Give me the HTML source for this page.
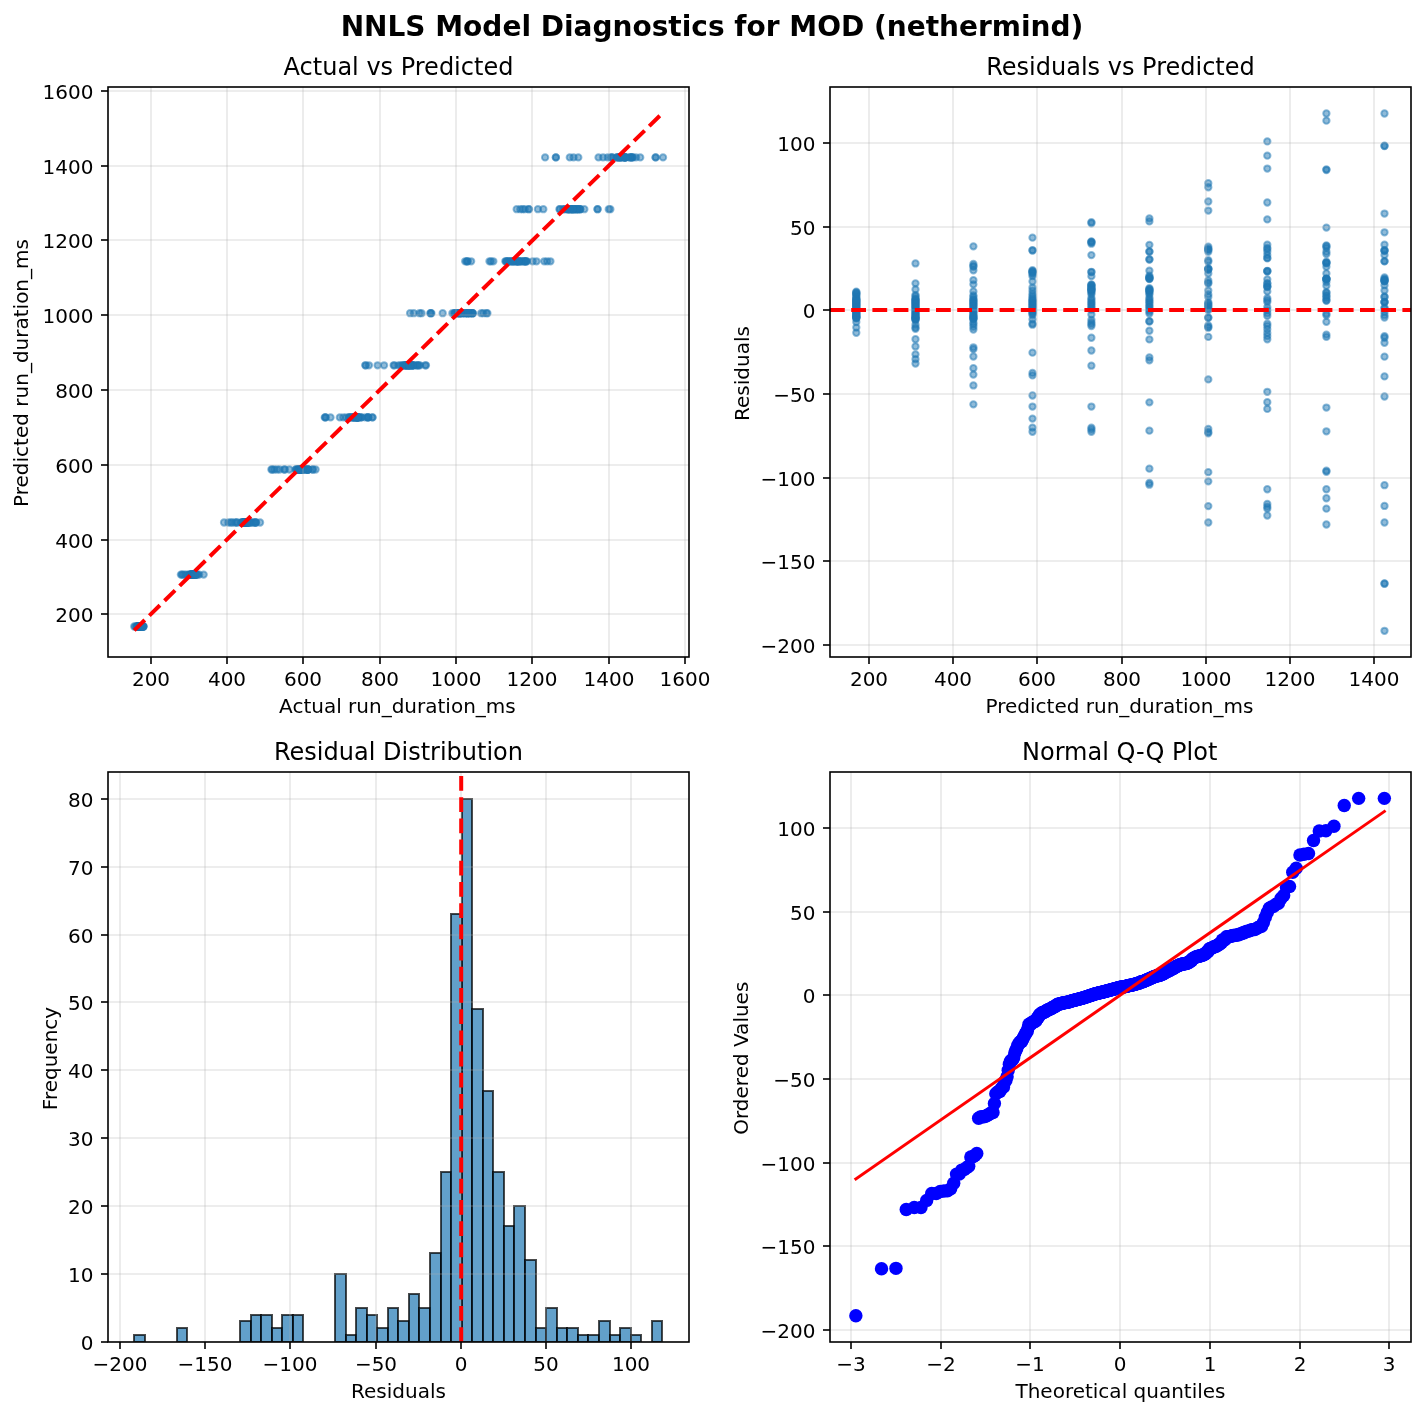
<!DOCTYPE html>
<html lang="en"><head><meta charset="utf-8"><title>NNLS Model Diagnostics for MOD (nethermind)</title>
<style>html,body{margin:0;padding:0;background:#fff}svg{display:block}</style></head>
<body>
<svg width="1425" height="1416" viewBox="0 0 1425 1416" font-family="'DejaVu Sans','Liberation Sans',sans-serif" fill="#000">
<rect width="1425" height="1416" fill="#fff"/>
<text x="712" y="36" font-size="28" text-anchor="middle" font-weight="bold">NNLS Model Diagnostics for MOD (nethermind)</text>
<defs>
<clipPath id="c1"><rect x="108" y="87" width="581" height="570"/></clipPath>
<clipPath id="c2"><rect x="830" y="87" width="581" height="570"/></clipPath>
<clipPath id="c3"><rect x="108" y="772" width="581" height="570"/></clipPath>
<clipPath id="c4"><rect x="830" y="772" width="581" height="570"/></clipPath>
</defs>
<text x="398.5" y="75.2" font-size="24" text-anchor="middle">Actual vs Predicted</text>
<g clip-path="url(#c1)">
<g fill="#1f77b4" fill-opacity="0.5" stroke="#1f77b4" stroke-opacity="0.5" stroke-width="2">
<circle cx="134.22" cy="626.5" r="3.16"/>
<circle cx="135.4" cy="626.5" r="3.16"/>
<circle cx="136.66" cy="626.5" r="3.16"/>
<circle cx="137.47" cy="626.5" r="3.16"/>
<circle cx="137.59" cy="626.5" r="3.16"/>
<circle cx="137.68" cy="626.5" r="3.16"/>
<circle cx="137.76" cy="626.5" r="3.16"/>
<circle cx="137.89" cy="626.5" r="3.16"/>
<circle cx="137.97" cy="626.5" r="3.16"/>
<circle cx="138.1" cy="626.5" r="3.16"/>
<circle cx="138.31" cy="626.5" r="3.16"/>
<circle cx="138.4" cy="626.5" r="3.16"/>
<circle cx="138.57" cy="626.5" r="3.16"/>
<circle cx="138.73" cy="626.5" r="3.16"/>
<circle cx="138.86" cy="626.5" r="3.16"/>
<circle cx="139.11" cy="626.5" r="3.16"/>
<circle cx="139.2" cy="626.5" r="3.16"/>
<circle cx="139.45" cy="626.5" r="3.16"/>
<circle cx="139.65" cy="626.5" r="3.16"/>
<circle cx="139.78" cy="626.5" r="3.16"/>
<circle cx="139.94" cy="626.5" r="3.16"/>
<circle cx="140.1" cy="626.5" r="3.16"/>
<circle cx="140.23" cy="626.5" r="3.16"/>
<circle cx="140.46" cy="626.5" r="3.16"/>
<circle cx="140.49" cy="626.5" r="3.16"/>
<circle cx="140.65" cy="626.5" r="3.16"/>
<circle cx="140.78" cy="626.5" r="3.16"/>
<circle cx="140.94" cy="626.5" r="3.16"/>
<circle cx="141.14" cy="626.5" r="3.16"/>
<circle cx="141.2" cy="626.5" r="3.16"/>
<circle cx="141.33" cy="626.5" r="3.16"/>
<circle cx="141.5" cy="626.5" r="3.16"/>
<circle cx="141.63" cy="626.5" r="3.16"/>
<circle cx="141.79" cy="626.5" r="3.16"/>
<circle cx="141.85" cy="626.5" r="3.16"/>
<circle cx="142" cy="626.5" r="3.16"/>
<circle cx="142.34" cy="626.5" r="3.16"/>
<circle cx="142.61" cy="626.5" r="3.16"/>
<circle cx="142.88" cy="626.5" r="3.16"/>
<circle cx="143.08" cy="626.5" r="3.16"/>
<circle cx="143.22" cy="626.5" r="3.16"/>
<circle cx="143.42" cy="626.5" r="3.16"/>
<circle cx="143.55" cy="626.5" r="3.16"/>
<circle cx="203.68" cy="574.6" r="3.16"/>
<circle cx="199.14" cy="574.6" r="3.16"/>
<circle cx="197.77" cy="574.6" r="3.16"/>
<circle cx="189.07" cy="574.6" r="3.16"/>
<circle cx="186.4" cy="574.6" r="3.16"/>
<circle cx="184.76" cy="574.6" r="3.16"/>
<circle cx="182.97" cy="574.6" r="3.16"/>
<circle cx="181.86" cy="574.6" r="3.16"/>
<circle cx="180.87" cy="574.6" r="3.16"/>
<circle cx="188.77" cy="574.6" r="3.16"/>
<circle cx="189.72" cy="574.6" r="3.16"/>
<circle cx="190.67" cy="574.6" r="3.16"/>
<circle cx="190.97" cy="574.6" r="3.16"/>
<circle cx="191.01" cy="574.6" r="3.16"/>
<circle cx="191.09" cy="574.6" r="3.16"/>
<circle cx="191.22" cy="574.6" r="3.16"/>
<circle cx="191.39" cy="574.6" r="3.16"/>
<circle cx="191.47" cy="574.6" r="3.16"/>
<circle cx="191.6" cy="574.6" r="3.16"/>
<circle cx="191.81" cy="574.6" r="3.16"/>
<circle cx="192.02" cy="574.6" r="3.16"/>
<circle cx="192.15" cy="574.6" r="3.16"/>
<circle cx="192.36" cy="574.6" r="3.16"/>
<circle cx="192.57" cy="574.6" r="3.16"/>
<circle cx="192.82" cy="574.6" r="3.16"/>
<circle cx="192.99" cy="574.6" r="3.16"/>
<circle cx="193.25" cy="574.6" r="3.16"/>
<circle cx="193.48" cy="574.6" r="3.16"/>
<circle cx="193.67" cy="574.6" r="3.16"/>
<circle cx="193.87" cy="574.6" r="3.16"/>
<circle cx="194" cy="574.6" r="3.16"/>
<circle cx="194.19" cy="574.6" r="3.16"/>
<circle cx="194.42" cy="574.6" r="3.16"/>
<circle cx="194.55" cy="574.6" r="3.16"/>
<circle cx="194.71" cy="574.6" r="3.16"/>
<circle cx="194.9" cy="574.6" r="3.16"/>
<circle cx="195.07" cy="574.6" r="3.16"/>
<circle cx="195.26" cy="574.6" r="3.16"/>
<circle cx="195.39" cy="574.6" r="3.16"/>
<circle cx="195.55" cy="574.6" r="3.16"/>
<circle cx="195.73" cy="574.6" r="3.16"/>
<circle cx="196.21" cy="574.6" r="3.16"/>
<circle cx="196.48" cy="574.6" r="3.16"/>
<circle cx="260.06" cy="522.5" r="3.16"/>
<circle cx="256.06" cy="522.5" r="3.16"/>
<circle cx="255.6" cy="522.5" r="3.16"/>
<circle cx="255.41" cy="522.5" r="3.16"/>
<circle cx="254.61" cy="522.5" r="3.16"/>
<circle cx="252.36" cy="522.5" r="3.16"/>
<circle cx="251.4" cy="522.5" r="3.16"/>
<circle cx="249.8" cy="522.5" r="3.16"/>
<circle cx="242.28" cy="522.5" r="3.16"/>
<circle cx="241.1" cy="522.5" r="3.16"/>
<circle cx="237.06" cy="522.5" r="3.16"/>
<circle cx="236.64" cy="522.5" r="3.16"/>
<circle cx="234.96" cy="522.5" r="3.16"/>
<circle cx="232.29" cy="522.5" r="3.16"/>
<circle cx="230.84" cy="522.5" r="3.16"/>
<circle cx="228.36" cy="522.5" r="3.16"/>
<circle cx="224.05" cy="522.5" r="3.16"/>
<circle cx="241.74" cy="522.5" r="3.16"/>
<circle cx="242.68" cy="522.5" r="3.16"/>
<circle cx="243.41" cy="522.5" r="3.16"/>
<circle cx="243.54" cy="522.5" r="3.16"/>
<circle cx="243.67" cy="522.5" r="3.16"/>
<circle cx="243.79" cy="522.5" r="3.16"/>
<circle cx="244" cy="522.5" r="3.16"/>
<circle cx="244.17" cy="522.5" r="3.16"/>
<circle cx="244.34" cy="522.5" r="3.16"/>
<circle cx="244.59" cy="522.5" r="3.16"/>
<circle cx="244.93" cy="522.5" r="3.16"/>
<circle cx="245.14" cy="522.5" r="3.16"/>
<circle cx="245.4" cy="522.5" r="3.16"/>
<circle cx="245.77" cy="522.5" r="3.16"/>
<circle cx="246" cy="522.5" r="3.16"/>
<circle cx="246.29" cy="522.5" r="3.16"/>
<circle cx="246.58" cy="522.5" r="3.16"/>
<circle cx="246.74" cy="522.5" r="3.16"/>
<circle cx="247" cy="522.5" r="3.16"/>
<circle cx="247.23" cy="522.5" r="3.16"/>
<circle cx="247.46" cy="522.5" r="3.16"/>
<circle cx="247.68" cy="522.5" r="3.16"/>
<circle cx="247.85" cy="522.5" r="3.16"/>
<circle cx="248.11" cy="522.5" r="3.16"/>
<circle cx="248.56" cy="522.5" r="3.16"/>
<circle cx="248.9" cy="522.5" r="3.16"/>
<circle cx="315.62" cy="469.5" r="3.16"/>
<circle cx="312.76" cy="469.5" r="3.16"/>
<circle cx="312.69" cy="469.5" r="3.16"/>
<circle cx="308.22" cy="469.5" r="3.16"/>
<circle cx="307.95" cy="469.5" r="3.16"/>
<circle cx="307.69" cy="469.5" r="3.16"/>
<circle cx="306.85" cy="469.5" r="3.16"/>
<circle cx="305.63" cy="469.5" r="3.16"/>
<circle cx="304.25" cy="469.5" r="3.16"/>
<circle cx="303.57" cy="469.5" r="3.16"/>
<circle cx="297.01" cy="469.5" r="3.16"/>
<circle cx="295.78" cy="469.5" r="3.16"/>
<circle cx="296.01" cy="469.5" r="3.16"/>
<circle cx="289.41" cy="469.5" r="3.16"/>
<circle cx="284.8" cy="469.5" r="3.16"/>
<circle cx="284.23" cy="469.5" r="3.16"/>
<circle cx="279.65" cy="469.5" r="3.16"/>
<circle cx="277.13" cy="469.5" r="3.16"/>
<circle cx="274.38" cy="469.5" r="3.16"/>
<circle cx="272.32" cy="469.5" r="3.16"/>
<circle cx="271.37" cy="469.5" r="3.16"/>
<circle cx="307.95" cy="469.5" r="3.16"/>
<circle cx="307.61" cy="469.5" r="3.16"/>
<circle cx="307.27" cy="469.5" r="3.16"/>
<circle cx="298" cy="469.5" r="3.16"/>
<circle cx="298.26" cy="469.5" r="3.16"/>
<circle cx="298.55" cy="469.5" r="3.16"/>
<circle cx="298.76" cy="469.5" r="3.16"/>
<circle cx="299.02" cy="469.5" r="3.16"/>
<circle cx="299.41" cy="469.5" r="3.16"/>
<circle cx="299.61" cy="469.5" r="3.16"/>
<circle cx="299.9" cy="469.5" r="3.16"/>
<circle cx="300.09" cy="469.5" r="3.16"/>
<circle cx="300.29" cy="469.5" r="3.16"/>
<circle cx="300.55" cy="469.5" r="3.16"/>
<circle cx="300.74" cy="469.5" r="3.16"/>
<circle cx="301" cy="469.5" r="3.16"/>
<circle cx="301.2" cy="469.5" r="3.16"/>
<circle cx="301.39" cy="469.5" r="3.16"/>
<circle cx="301.65" cy="469.5" r="3.16"/>
<circle cx="302" cy="469.5" r="3.16"/>
<circle cx="302.41" cy="469.5" r="3.16"/>
<circle cx="302.88" cy="469.5" r="3.16"/>
<circle cx="372.57" cy="417.4" r="3.16"/>
<circle cx="372.3" cy="417.4" r="3.16"/>
<circle cx="368.18" cy="417.4" r="3.16"/>
<circle cx="368.06" cy="417.4" r="3.16"/>
<circle cx="367.91" cy="417.4" r="3.16"/>
<circle cx="367.64" cy="417.4" r="3.16"/>
<circle cx="365.05" cy="417.4" r="3.16"/>
<circle cx="361.24" cy="417.4" r="3.16"/>
<circle cx="361.16" cy="417.4" r="3.16"/>
<circle cx="360.24" cy="417.4" r="3.16"/>
<circle cx="351.51" cy="417.4" r="3.16"/>
<circle cx="350.29" cy="417.4" r="3.16"/>
<circle cx="349.71" cy="417.4" r="3.16"/>
<circle cx="349.29" cy="417.4" r="3.16"/>
<circle cx="348.87" cy="417.4" r="3.16"/>
<circle cx="346.2" cy="417.4" r="3.16"/>
<circle cx="343.31" cy="417.4" r="3.16"/>
<circle cx="339.83" cy="417.4" r="3.16"/>
<circle cx="330.52" cy="417.4" r="3.16"/>
<circle cx="325.72" cy="417.4" r="3.16"/>
<circle cx="325.3" cy="417.4" r="3.16"/>
<circle cx="324.76" cy="417.4" r="3.16"/>
<circle cx="357.67" cy="417.4" r="3.16"/>
<circle cx="358.08" cy="417.4" r="3.16"/>
<circle cx="358.36" cy="417.4" r="3.16"/>
<circle cx="358.22" cy="417.4" r="3.16"/>
<circle cx="357.95" cy="417.4" r="3.16"/>
<circle cx="352.62" cy="417.4" r="3.16"/>
<circle cx="353.04" cy="417.4" r="3.16"/>
<circle cx="353.39" cy="417.4" r="3.16"/>
<circle cx="353.81" cy="417.4" r="3.16"/>
<circle cx="354.11" cy="417.4" r="3.16"/>
<circle cx="354.49" cy="417.4" r="3.16"/>
<circle cx="354.88" cy="417.4" r="3.16"/>
<circle cx="355.26" cy="417.4" r="3.16"/>
<circle cx="356.14" cy="417.4" r="3.16"/>
<circle cx="356.48" cy="417.4" r="3.16"/>
<circle cx="356.82" cy="417.4" r="3.16"/>
<circle cx="356.95" cy="417.4" r="3.16"/>
<circle cx="357.09" cy="417.4" r="3.16"/>
<circle cx="357.22" cy="417.4" r="3.16"/>
<circle cx="357.36" cy="417.4" r="3.16"/>
<circle cx="357.42" cy="417.4" r="3.16"/>
<circle cx="425.98" cy="365.3" r="3.16"/>
<circle cx="425.3" cy="365.3" r="3.16"/>
<circle cx="419.96" cy="365.3" r="3.16"/>
<circle cx="418.47" cy="365.3" r="3.16"/>
<circle cx="418.39" cy="365.3" r="3.16"/>
<circle cx="416.68" cy="365.3" r="3.16"/>
<circle cx="416.6" cy="365.3" r="3.16"/>
<circle cx="414.08" cy="365.3" r="3.16"/>
<circle cx="412.48" cy="365.3" r="3.16"/>
<circle cx="412.29" cy="365.3" r="3.16"/>
<circle cx="412.14" cy="365.3" r="3.16"/>
<circle cx="402.56" cy="365.3" r="3.16"/>
<circle cx="402.48" cy="365.3" r="3.16"/>
<circle cx="400.39" cy="365.3" r="3.16"/>
<circle cx="398.4" cy="365.3" r="3.16"/>
<circle cx="394.32" cy="365.3" r="3.16"/>
<circle cx="393.63" cy="365.3" r="3.16"/>
<circle cx="384.06" cy="365.3" r="3.16"/>
<circle cx="377.61" cy="365.3" r="3.16"/>
<circle cx="368.95" cy="365.3" r="3.16"/>
<circle cx="365.71" cy="365.3" r="3.16"/>
<circle cx="365.29" cy="365.3" r="3.16"/>
<circle cx="412.57" cy="365.3" r="3.16"/>
<circle cx="412.33" cy="365.3" r="3.16"/>
<circle cx="412.91" cy="365.3" r="3.16"/>
<circle cx="410.11" cy="365.3" r="3.16"/>
<circle cx="404.31" cy="365.3" r="3.16"/>
<circle cx="404.78" cy="365.3" r="3.16"/>
<circle cx="405.24" cy="365.3" r="3.16"/>
<circle cx="405.68" cy="365.3" r="3.16"/>
<circle cx="406" cy="365.3" r="3.16"/>
<circle cx="406.43" cy="365.3" r="3.16"/>
<circle cx="406.81" cy="365.3" r="3.16"/>
<circle cx="407.14" cy="365.3" r="3.16"/>
<circle cx="407.53" cy="365.3" r="3.16"/>
<circle cx="407.91" cy="365.3" r="3.16"/>
<circle cx="408.65" cy="365.3" r="3.16"/>
<circle cx="408.99" cy="365.3" r="3.16"/>
<circle cx="409.33" cy="365.3" r="3.16"/>
<circle cx="409.46" cy="365.3" r="3.16"/>
<circle cx="409.6" cy="365.3" r="3.16"/>
<circle cx="409.73" cy="365.3" r="3.16"/>
<circle cx="409.87" cy="365.3" r="3.16"/>
<circle cx="487.39" cy="313.2" r="3.16"/>
<circle cx="486.48" cy="313.2" r="3.16"/>
<circle cx="483.23" cy="313.2" r="3.16"/>
<circle cx="481.17" cy="313.2" r="3.16"/>
<circle cx="472.93" cy="313.2" r="3.16"/>
<circle cx="472.32" cy="313.2" r="3.16"/>
<circle cx="472.51" cy="313.2" r="3.16"/>
<circle cx="472.17" cy="313.2" r="3.16"/>
<circle cx="471.79" cy="313.2" r="3.16"/>
<circle cx="469.84" cy="313.2" r="3.16"/>
<circle cx="469.5" cy="313.2" r="3.16"/>
<circle cx="467.9" cy="313.2" r="3.16"/>
<circle cx="467.78" cy="313.2" r="3.16"/>
<circle cx="466.83" cy="313.2" r="3.16"/>
<circle cx="465.23" cy="313.2" r="3.16"/>
<circle cx="464.54" cy="313.2" r="3.16"/>
<circle cx="462.94" cy="313.2" r="3.16"/>
<circle cx="462.06" cy="313.2" r="3.16"/>
<circle cx="461.49" cy="313.2" r="3.16"/>
<circle cx="456.8" cy="313.2" r="3.16"/>
<circle cx="456.72" cy="313.2" r="3.16"/>
<circle cx="455" cy="313.2" r="3.16"/>
<circle cx="454.47" cy="313.2" r="3.16"/>
<circle cx="454.62" cy="313.2" r="3.16"/>
<circle cx="452.37" cy="313.2" r="3.16"/>
<circle cx="442.68" cy="313.2" r="3.16"/>
<circle cx="431.39" cy="313.2" r="3.16"/>
<circle cx="430.7" cy="313.2" r="3.16"/>
<circle cx="430.4" cy="313.2" r="3.16"/>
<circle cx="421.54" cy="313.2" r="3.16"/>
<circle cx="419.45" cy="313.2" r="3.16"/>
<circle cx="413.8" cy="313.2" r="3.16"/>
<circle cx="410.06" cy="313.2" r="3.16"/>
<circle cx="467.66" cy="313.2" r="3.16"/>
<circle cx="464.76" cy="313.2" r="3.16"/>
<circle cx="468" cy="313.2" r="3.16"/>
<circle cx="458.51" cy="313.2" r="3.16"/>
<circle cx="458.85" cy="313.2" r="3.16"/>
<circle cx="459.17" cy="313.2" r="3.16"/>
<circle cx="459.5" cy="313.2" r="3.16"/>
<circle cx="459.72" cy="313.2" r="3.16"/>
<circle cx="460.02" cy="313.2" r="3.16"/>
<circle cx="460.27" cy="313.2" r="3.16"/>
<circle cx="550.42" cy="261.3" r="3.16"/>
<circle cx="547.17" cy="261.3" r="3.16"/>
<circle cx="544.23" cy="261.3" r="3.16"/>
<circle cx="536.49" cy="261.3" r="3.16"/>
<circle cx="532.64" cy="261.3" r="3.16"/>
<circle cx="526.88" cy="261.3" r="3.16"/>
<circle cx="526.15" cy="261.3" r="3.16"/>
<circle cx="525.85" cy="261.3" r="3.16"/>
<circle cx="525.27" cy="261.3" r="3.16"/>
<circle cx="524.51" cy="261.3" r="3.16"/>
<circle cx="523.86" cy="261.3" r="3.16"/>
<circle cx="523.75" cy="261.3" r="3.16"/>
<circle cx="520.85" cy="261.3" r="3.16"/>
<circle cx="520.93" cy="261.3" r="3.16"/>
<circle cx="520.77" cy="261.3" r="3.16"/>
<circle cx="518.98" cy="261.3" r="3.16"/>
<circle cx="517.3" cy="261.3" r="3.16"/>
<circle cx="517.38" cy="261.3" r="3.16"/>
<circle cx="516.23" cy="261.3" r="3.16"/>
<circle cx="514.67" cy="261.3" r="3.16"/>
<circle cx="514.21" cy="261.3" r="3.16"/>
<circle cx="513.79" cy="261.3" r="3.16"/>
<circle cx="508.87" cy="261.3" r="3.16"/>
<circle cx="508.34" cy="261.3" r="3.16"/>
<circle cx="507.61" cy="261.3" r="3.16"/>
<circle cx="506.73" cy="261.3" r="3.16"/>
<circle cx="506.05" cy="261.3" r="3.16"/>
<circle cx="505.32" cy="261.3" r="3.16"/>
<circle cx="493.34" cy="261.3" r="3.16"/>
<circle cx="490.98" cy="261.3" r="3.16"/>
<circle cx="489.45" cy="261.3" r="3.16"/>
<circle cx="471.14" cy="261.3" r="3.16"/>
<circle cx="467.78" cy="261.3" r="3.16"/>
<circle cx="467.17" cy="261.3" r="3.16"/>
<circle cx="466.71" cy="261.3" r="3.16"/>
<circle cx="465.15" cy="261.3" r="3.16"/>
<circle cx="517.27" cy="261.3" r="3.16"/>
<circle cx="517.96" cy="261.3" r="3.16"/>
<circle cx="518.1" cy="261.3" r="3.16"/>
<circle cx="510.65" cy="261.3" r="3.16"/>
<circle cx="511.24" cy="261.3" r="3.16"/>
<circle cx="511.96" cy="261.3" r="3.16"/>
<circle cx="512.63" cy="261.3" r="3.16"/>
<circle cx="610.36" cy="209.2" r="3.16"/>
<circle cx="608.72" cy="209.2" r="3.16"/>
<circle cx="597.62" cy="209.2" r="3.16"/>
<circle cx="597.47" cy="209.2" r="3.16"/>
<circle cx="584.34" cy="209.2" r="3.16"/>
<circle cx="580.26" cy="209.2" r="3.16"/>
<circle cx="580.11" cy="209.2" r="3.16"/>
<circle cx="579.73" cy="209.2" r="3.16"/>
<circle cx="578.85" cy="209.2" r="3.16"/>
<circle cx="578.32" cy="209.2" r="3.16"/>
<circle cx="576.56" cy="209.2" r="3.16"/>
<circle cx="576.37" cy="209.2" r="3.16"/>
<circle cx="576.29" cy="209.2" r="3.16"/>
<circle cx="576.18" cy="209.2" r="3.16"/>
<circle cx="575.42" cy="209.2" r="3.16"/>
<circle cx="573.89" cy="209.2" r="3.16"/>
<circle cx="572.67" cy="209.2" r="3.16"/>
<circle cx="572.75" cy="209.2" r="3.16"/>
<circle cx="572.59" cy="209.2" r="3.16"/>
<circle cx="571.07" cy="209.2" r="3.16"/>
<circle cx="569.47" cy="209.2" r="3.16"/>
<circle cx="568.93" cy="209.2" r="3.16"/>
<circle cx="568.25" cy="209.2" r="3.16"/>
<circle cx="567.71" cy="209.2" r="3.16"/>
<circle cx="564.74" cy="209.2" r="3.16"/>
<circle cx="564.35" cy="209.2" r="3.16"/>
<circle cx="562.87" cy="209.2" r="3.16"/>
<circle cx="559.97" cy="209.2" r="3.16"/>
<circle cx="559.43" cy="209.2" r="3.16"/>
<circle cx="543.33" cy="209.2" r="3.16"/>
<circle cx="537.92" cy="209.2" r="3.16"/>
<circle cx="528.95" cy="209.2" r="3.16"/>
<circle cx="528.68" cy="209.2" r="3.16"/>
<circle cx="524.72" cy="209.2" r="3.16"/>
<circle cx="522.66" cy="209.2" r="3.16"/>
<circle cx="520.29" cy="209.2" r="3.16"/>
<circle cx="516.67" cy="209.2" r="3.16"/>
<circle cx="572.65" cy="209.2" r="3.16"/>
<circle cx="572.51" cy="209.2" r="3.16"/>
<circle cx="571.96" cy="209.2" r="3.16"/>
<circle cx="567.73" cy="209.2" r="3.16"/>
<circle cx="568.64" cy="209.2" r="3.16"/>
<circle cx="569.65" cy="209.2" r="3.16"/>
<circle cx="663.03" cy="157.4" r="3.16"/>
<circle cx="655.59" cy="157.4" r="3.16"/>
<circle cx="655.67" cy="157.4" r="3.16"/>
<circle cx="640.22" cy="157.4" r="3.16"/>
<circle cx="635.95" cy="157.4" r="3.16"/>
<circle cx="633.12" cy="157.4" r="3.16"/>
<circle cx="631.86" cy="157.4" r="3.16"/>
<circle cx="631.79" cy="157.4" r="3.16"/>
<circle cx="631.71" cy="157.4" r="3.16"/>
<circle cx="630.76" cy="157.4" r="3.16"/>
<circle cx="629.38" cy="157.4" r="3.16"/>
<circle cx="629.31" cy="157.4" r="3.16"/>
<circle cx="625.68" cy="157.4" r="3.16"/>
<circle cx="625.15" cy="157.4" r="3.16"/>
<circle cx="624.81" cy="157.4" r="3.16"/>
<circle cx="625.34" cy="157.4" r="3.16"/>
<circle cx="623.89" cy="157.4" r="3.16"/>
<circle cx="622.67" cy="157.4" r="3.16"/>
<circle cx="621.26" cy="157.4" r="3.16"/>
<circle cx="621.22" cy="157.4" r="3.16"/>
<circle cx="620" cy="157.4" r="3.16"/>
<circle cx="620.08" cy="157.4" r="3.16"/>
<circle cx="620.04" cy="157.4" r="3.16"/>
<circle cx="618.78" cy="157.4" r="3.16"/>
<circle cx="616.53" cy="157.4" r="3.16"/>
<circle cx="612.29" cy="157.4" r="3.16"/>
<circle cx="611.91" cy="157.4" r="3.16"/>
<circle cx="610.77" cy="157.4" r="3.16"/>
<circle cx="607.6" cy="157.4" r="3.16"/>
<circle cx="603.1" cy="157.4" r="3.16"/>
<circle cx="598.52" cy="157.4" r="3.16"/>
<circle cx="578.3" cy="157.4" r="3.16"/>
<circle cx="573.57" cy="157.4" r="3.16"/>
<circle cx="569.79" cy="157.4" r="3.16"/>
<circle cx="555.91" cy="157.4" r="3.16"/>
<circle cx="555.83" cy="157.4" r="3.16"/>
<circle cx="545.11" cy="157.4" r="3.16"/>
<circle cx="624.91" cy="157.4" r="3.16"/>
<circle cx="625.04" cy="157.4" r="3.16"/>
<circle cx="624.77" cy="157.4" r="3.16"/>
<circle cx="617.06" cy="157.4" r="3.16"/>
<circle cx="617.78" cy="157.4" r="3.16"/>
<circle cx="618.55" cy="157.4" r="3.16"/>
</g>
<line x1="151" y1="87" x2="151" y2="657" stroke="#b0b0b0" stroke-opacity="0.3" stroke-width="1.6"/>
<line x1="227" y1="87" x2="227" y2="657" stroke="#b0b0b0" stroke-opacity="0.3" stroke-width="1.6"/>
<line x1="303" y1="87" x2="303" y2="657" stroke="#b0b0b0" stroke-opacity="0.3" stroke-width="1.6"/>
<line x1="380" y1="87" x2="380" y2="657" stroke="#b0b0b0" stroke-opacity="0.3" stroke-width="1.6"/>
<line x1="456" y1="87" x2="456" y2="657" stroke="#b0b0b0" stroke-opacity="0.3" stroke-width="1.6"/>
<line x1="532" y1="87" x2="532" y2="657" stroke="#b0b0b0" stroke-opacity="0.3" stroke-width="1.6"/>
<line x1="609" y1="87" x2="609" y2="657" stroke="#b0b0b0" stroke-opacity="0.3" stroke-width="1.6"/>
<line x1="685" y1="87" x2="685" y2="657" stroke="#b0b0b0" stroke-opacity="0.3" stroke-width="1.6"/>
<line x1="108" y1="614" x2="689" y2="614" stroke="#b0b0b0" stroke-opacity="0.3" stroke-width="1.6"/>
<line x1="108" y1="540" x2="689" y2="540" stroke="#b0b0b0" stroke-opacity="0.3" stroke-width="1.6"/>
<line x1="108" y1="465" x2="689" y2="465" stroke="#b0b0b0" stroke-opacity="0.3" stroke-width="1.6"/>
<line x1="108" y1="390" x2="689" y2="390" stroke="#b0b0b0" stroke-opacity="0.3" stroke-width="1.6"/>
<line x1="108" y1="315" x2="689" y2="315" stroke="#b0b0b0" stroke-opacity="0.3" stroke-width="1.6"/>
<line x1="108" y1="240" x2="689" y2="240" stroke="#b0b0b0" stroke-opacity="0.3" stroke-width="1.6"/>
<line x1="108" y1="166" x2="689" y2="166" stroke="#b0b0b0" stroke-opacity="0.3" stroke-width="1.6"/>
<line x1="108" y1="91" x2="689" y2="91" stroke="#b0b0b0" stroke-opacity="0.3" stroke-width="1.6"/>
<line x1="134.2" y1="630.4" x2="662.4" y2="113.2" stroke="#f00" stroke-width="4" stroke-dasharray="14.8 6.4"/>
</g>
<rect x="108" y="87" width="581" height="570" fill="none" stroke="#000" stroke-width="1.6"/>
<line x1="151" y1="657" x2="151" y2="664" stroke="#000" stroke-width="1.6"/>
<text x="151" y="686" font-size="20" text-anchor="middle">200</text>
<line x1="227" y1="657" x2="227" y2="664" stroke="#000" stroke-width="1.6"/>
<text x="227" y="686" font-size="20" text-anchor="middle">400</text>
<line x1="303" y1="657" x2="303" y2="664" stroke="#000" stroke-width="1.6"/>
<text x="303" y="686" font-size="20" text-anchor="middle">600</text>
<line x1="380" y1="657" x2="380" y2="664" stroke="#000" stroke-width="1.6"/>
<text x="380" y="686" font-size="20" text-anchor="middle">800</text>
<line x1="456" y1="657" x2="456" y2="664" stroke="#000" stroke-width="1.6"/>
<text x="456" y="686" font-size="20" text-anchor="middle">1000</text>
<line x1="532" y1="657" x2="532" y2="664" stroke="#000" stroke-width="1.6"/>
<text x="532" y="686" font-size="20" text-anchor="middle">1200</text>
<line x1="609" y1="657" x2="609" y2="664" stroke="#000" stroke-width="1.6"/>
<text x="609" y="686" font-size="20" text-anchor="middle">1400</text>
<line x1="685" y1="657" x2="685" y2="664" stroke="#000" stroke-width="1.6"/>
<text x="685" y="686" font-size="20" text-anchor="middle">1600</text>
<line x1="101" y1="614" x2="108" y2="614" stroke="#000" stroke-width="1.6"/>
<text x="93.5" y="621.6" font-size="20" text-anchor="end">200</text>
<line x1="101" y1="540" x2="108" y2="540" stroke="#000" stroke-width="1.6"/>
<text x="93.5" y="547.6" font-size="20" text-anchor="end">400</text>
<line x1="101" y1="465" x2="108" y2="465" stroke="#000" stroke-width="1.6"/>
<text x="93.5" y="472.6" font-size="20" text-anchor="end">600</text>
<line x1="101" y1="390" x2="108" y2="390" stroke="#000" stroke-width="1.6"/>
<text x="93.5" y="397.6" font-size="20" text-anchor="end">800</text>
<line x1="101" y1="315" x2="108" y2="315" stroke="#000" stroke-width="1.6"/>
<text x="93.5" y="322.6" font-size="20" text-anchor="end">1000</text>
<line x1="101" y1="240" x2="108" y2="240" stroke="#000" stroke-width="1.6"/>
<text x="93.5" y="247.6" font-size="20" text-anchor="end">1200</text>
<line x1="101" y1="166" x2="108" y2="166" stroke="#000" stroke-width="1.6"/>
<text x="93.5" y="173.6" font-size="20" text-anchor="end">1400</text>
<line x1="101" y1="91" x2="108" y2="91" stroke="#000" stroke-width="1.6"/>
<text x="93.5" y="98.6" font-size="20" text-anchor="end">1600</text>
<text x="397.4" y="713" font-size="20" text-anchor="middle">Actual run_duration_ms</text>
<text x="28" y="373" font-size="20" text-anchor="middle" transform="rotate(-90 28 373)">Predicted run_duration_ms</text>
<text x="1120.5" y="75.2" font-size="24" text-anchor="middle">Residuals vs Predicted</text>
<g clip-path="url(#c2)">
<g fill="#1f77b4" fill-opacity="0.5" stroke="#1f77b4" stroke-opacity="0.5" stroke-width="2">
<circle cx="856.3" cy="332.73" r="3.16"/>
<circle cx="856.3" cy="327.54" r="3.16"/>
<circle cx="856.3" cy="322.02" r="3.16"/>
<circle cx="856.3" cy="318.49" r="3.16"/>
<circle cx="856.3" cy="317.93" r="3.16"/>
<circle cx="856.3" cy="317.56" r="3.16"/>
<circle cx="856.3" cy="317.19" r="3.16"/>
<circle cx="856.3" cy="316.63" r="3.16"/>
<circle cx="856.3" cy="316.26" r="3.16"/>
<circle cx="856.3" cy="315.71" r="3.16"/>
<circle cx="856.3" cy="314.78" r="3.16"/>
<circle cx="856.3" cy="314.41" r="3.16"/>
<circle cx="856.3" cy="313.67" r="3.16"/>
<circle cx="856.3" cy="312.93" r="3.16"/>
<circle cx="856.3" cy="312.37" r="3.16"/>
<circle cx="856.3" cy="311.26" r="3.16"/>
<circle cx="856.3" cy="310.89" r="3.16"/>
<circle cx="856.3" cy="309.78" r="3.16"/>
<circle cx="856.3" cy="308.92" r="3.16"/>
<circle cx="856.3" cy="308.35" r="3.16"/>
<circle cx="856.3" cy="307.64" r="3.16"/>
<circle cx="856.3" cy="306.93" r="3.16"/>
<circle cx="856.3" cy="306.36" r="3.16"/>
<circle cx="856.3" cy="305.36" r="3.16"/>
<circle cx="856.3" cy="305.22" r="3.16"/>
<circle cx="856.3" cy="304.51" r="3.16"/>
<circle cx="856.3" cy="303.94" r="3.16"/>
<circle cx="856.3" cy="303.23" r="3.16"/>
<circle cx="856.3" cy="302.38" r="3.16"/>
<circle cx="856.3" cy="302.09" r="3.16"/>
<circle cx="856.3" cy="301.52" r="3.16"/>
<circle cx="856.3" cy="300.81" r="3.16"/>
<circle cx="856.3" cy="300.24" r="3.16"/>
<circle cx="856.3" cy="299.53" r="3.16"/>
<circle cx="856.3" cy="299.25" r="3.16"/>
<circle cx="856.3" cy="298.6" r="3.16"/>
<circle cx="856.3" cy="297.12" r="3.16"/>
<circle cx="856.3" cy="295.93" r="3.16"/>
<circle cx="856.3" cy="294.75" r="3.16"/>
<circle cx="856.3" cy="293.86" r="3.16"/>
<circle cx="856.3" cy="293.27" r="3.16"/>
<circle cx="856.3" cy="292.38" r="3.16"/>
<circle cx="856.3" cy="291.78" r="3.16"/>
<circle cx="915.5" cy="263.44" r="3.16"/>
<circle cx="915.5" cy="283.35" r="3.16"/>
<circle cx="915.5" cy="289.38" r="3.16"/>
<circle cx="915.5" cy="327.54" r="3.16"/>
<circle cx="915.5" cy="339.26" r="3.16"/>
<circle cx="915.5" cy="346.45" r="3.16"/>
<circle cx="915.5" cy="354.32" r="3.16"/>
<circle cx="915.5" cy="359.17" r="3.16"/>
<circle cx="915.5" cy="363.52" r="3.16"/>
<circle cx="915.5" cy="328.84" r="3.16"/>
<circle cx="915.5" cy="324.69" r="3.16"/>
<circle cx="915.5" cy="320.54" r="3.16"/>
<circle cx="915.5" cy="319.23" r="3.16"/>
<circle cx="915.5" cy="319.04" r="3.16"/>
<circle cx="915.5" cy="318.67" r="3.16"/>
<circle cx="915.5" cy="318.12" r="3.16"/>
<circle cx="915.5" cy="317.37" r="3.16"/>
<circle cx="915.5" cy="317" r="3.16"/>
<circle cx="915.5" cy="316.45" r="3.16"/>
<circle cx="915.5" cy="315.52" r="3.16"/>
<circle cx="915.5" cy="314.59" r="3.16"/>
<circle cx="915.5" cy="314.04" r="3.16"/>
<circle cx="915.5" cy="313.11" r="3.16"/>
<circle cx="915.5" cy="312.19" r="3.16"/>
<circle cx="915.5" cy="311.07" r="3.16"/>
<circle cx="915.5" cy="310.33" r="3.16"/>
<circle cx="915.5" cy="309.22" r="3.16"/>
<circle cx="915.5" cy="308.2" r="3.16"/>
<circle cx="915.5" cy="307.35" r="3.16"/>
<circle cx="915.5" cy="306.5" r="3.16"/>
<circle cx="915.5" cy="305.93" r="3.16"/>
<circle cx="915.5" cy="305.08" r="3.16"/>
<circle cx="915.5" cy="304.08" r="3.16"/>
<circle cx="915.5" cy="303.51" r="3.16"/>
<circle cx="915.5" cy="302.8" r="3.16"/>
<circle cx="915.5" cy="301.95" r="3.16"/>
<circle cx="915.5" cy="301.24" r="3.16"/>
<circle cx="915.5" cy="300.39" r="3.16"/>
<circle cx="915.5" cy="299.82" r="3.16"/>
<circle cx="915.5" cy="299.11" r="3.16"/>
<circle cx="915.5" cy="298.31" r="3.16"/>
<circle cx="915.5" cy="296.23" r="3.16"/>
<circle cx="915.5" cy="295.05" r="3.16"/>
<circle cx="973.4" cy="246.36" r="3.16"/>
<circle cx="973.4" cy="263.94" r="3.16"/>
<circle cx="973.4" cy="265.95" r="3.16"/>
<circle cx="973.4" cy="266.78" r="3.16"/>
<circle cx="973.4" cy="270.3" r="3.16"/>
<circle cx="973.4" cy="280.17" r="3.16"/>
<circle cx="973.4" cy="284.36" r="3.16"/>
<circle cx="973.4" cy="291.39" r="3.16"/>
<circle cx="973.4" cy="324.36" r="3.16"/>
<circle cx="973.4" cy="329.55" r="3.16"/>
<circle cx="973.4" cy="347.29" r="3.16"/>
<circle cx="973.4" cy="349.13" r="3.16"/>
<circle cx="973.4" cy="356.49" r="3.16"/>
<circle cx="973.4" cy="368.21" r="3.16"/>
<circle cx="973.4" cy="374.57" r="3.16"/>
<circle cx="973.4" cy="385.45" r="3.16"/>
<circle cx="973.4" cy="404.36" r="3.16"/>
<circle cx="973.4" cy="326.77" r="3.16"/>
<circle cx="973.4" cy="322.62" r="3.16"/>
<circle cx="973.4" cy="319.41" r="3.16"/>
<circle cx="973.4" cy="318.86" r="3.16"/>
<circle cx="973.4" cy="318.3" r="3.16"/>
<circle cx="973.4" cy="317.74" r="3.16"/>
<circle cx="973.4" cy="316.82" r="3.16"/>
<circle cx="973.4" cy="316.08" r="3.16"/>
<circle cx="973.4" cy="315.34" r="3.16"/>
<circle cx="973.4" cy="314.22" r="3.16"/>
<circle cx="973.4" cy="312.74" r="3.16"/>
<circle cx="973.4" cy="311.82" r="3.16"/>
<circle cx="973.4" cy="310.7" r="3.16"/>
<circle cx="973.4" cy="309.06" r="3.16"/>
<circle cx="973.4" cy="308.06" r="3.16"/>
<circle cx="973.4" cy="306.78" r="3.16"/>
<circle cx="973.4" cy="305.5" r="3.16"/>
<circle cx="973.4" cy="304.79" r="3.16"/>
<circle cx="973.4" cy="303.66" r="3.16"/>
<circle cx="973.4" cy="302.66" r="3.16"/>
<circle cx="973.4" cy="301.67" r="3.16"/>
<circle cx="973.4" cy="300.67" r="3.16"/>
<circle cx="973.4" cy="299.96" r="3.16"/>
<circle cx="973.4" cy="298.82" r="3.16"/>
<circle cx="973.4" cy="296.82" r="3.16"/>
<circle cx="973.4" cy="295.34" r="3.16"/>
<circle cx="1032.5" cy="237.66" r="3.16"/>
<circle cx="1032.5" cy="250.21" r="3.16"/>
<circle cx="1032.5" cy="250.55" r="3.16"/>
<circle cx="1032.5" cy="270.13" r="3.16"/>
<circle cx="1032.5" cy="271.3" r="3.16"/>
<circle cx="1032.5" cy="272.47" r="3.16"/>
<circle cx="1032.5" cy="276.16" r="3.16"/>
<circle cx="1032.5" cy="281.51" r="3.16"/>
<circle cx="1032.5" cy="287.54" r="3.16"/>
<circle cx="1032.5" cy="290.55" r="3.16"/>
<circle cx="1032.5" cy="319.34" r="3.16"/>
<circle cx="1032.5" cy="324.69" r="3.16"/>
<circle cx="1032.5" cy="323.69" r="3.16"/>
<circle cx="1032.5" cy="352.64" r="3.16"/>
<circle cx="1032.5" cy="372.9" r="3.16"/>
<circle cx="1032.5" cy="375.41" r="3.16"/>
<circle cx="1032.5" cy="395.49" r="3.16"/>
<circle cx="1032.5" cy="406.54" r="3.16"/>
<circle cx="1032.5" cy="418.59" r="3.16"/>
<circle cx="1032.5" cy="427.63" r="3.16"/>
<circle cx="1032.5" cy="431.81" r="3.16"/>
<circle cx="1032.5" cy="271.33" r="3.16"/>
<circle cx="1032.5" cy="272.81" r="3.16"/>
<circle cx="1032.5" cy="274.29" r="3.16"/>
<circle cx="1032.5" cy="314.97" r="3.16"/>
<circle cx="1032.5" cy="313.85" r="3.16"/>
<circle cx="1032.5" cy="312.56" r="3.16"/>
<circle cx="1032.5" cy="311.63" r="3.16"/>
<circle cx="1032.5" cy="310.52" r="3.16"/>
<circle cx="1032.5" cy="308.77" r="3.16"/>
<circle cx="1032.5" cy="307.92" r="3.16"/>
<circle cx="1032.5" cy="306.64" r="3.16"/>
<circle cx="1032.5" cy="305.79" r="3.16"/>
<circle cx="1032.5" cy="304.93" r="3.16"/>
<circle cx="1032.5" cy="303.8" r="3.16"/>
<circle cx="1032.5" cy="302.94" r="3.16"/>
<circle cx="1032.5" cy="301.81" r="3.16"/>
<circle cx="1032.5" cy="300.95" r="3.16"/>
<circle cx="1032.5" cy="300.1" r="3.16"/>
<circle cx="1032.5" cy="298.96" r="3.16"/>
<circle cx="1032.5" cy="297.42" r="3.16"/>
<circle cx="1032.5" cy="295.64" r="3.16"/>
<circle cx="1032.5" cy="293.56" r="3.16"/>
<circle cx="1091.4" cy="222.1" r="3.16"/>
<circle cx="1091.4" cy="223.27" r="3.16"/>
<circle cx="1091.4" cy="241.34" r="3.16"/>
<circle cx="1091.4" cy="241.85" r="3.16"/>
<circle cx="1091.4" cy="242.52" r="3.16"/>
<circle cx="1091.4" cy="243.69" r="3.16"/>
<circle cx="1091.4" cy="255.07" r="3.16"/>
<circle cx="1091.4" cy="271.8" r="3.16"/>
<circle cx="1091.4" cy="272.14" r="3.16"/>
<circle cx="1091.4" cy="276.16" r="3.16"/>
<circle cx="1091.4" cy="314.48" r="3.16"/>
<circle cx="1091.4" cy="319.84" r="3.16"/>
<circle cx="1091.4" cy="322.35" r="3.16"/>
<circle cx="1091.4" cy="324.19" r="3.16"/>
<circle cx="1091.4" cy="326.03" r="3.16"/>
<circle cx="1091.4" cy="337.75" r="3.16"/>
<circle cx="1091.4" cy="350.47" r="3.16"/>
<circle cx="1091.4" cy="365.7" r="3.16"/>
<circle cx="1091.4" cy="406.54" r="3.16"/>
<circle cx="1091.4" cy="427.63" r="3.16"/>
<circle cx="1091.4" cy="429.47" r="3.16"/>
<circle cx="1091.4" cy="431.81" r="3.16"/>
<circle cx="1091.4" cy="287.46" r="3.16"/>
<circle cx="1091.4" cy="285.63" r="3.16"/>
<circle cx="1091.4" cy="284.41" r="3.16"/>
<circle cx="1091.4" cy="285.02" r="3.16"/>
<circle cx="1091.4" cy="286.24" r="3.16"/>
<circle cx="1091.4" cy="309.59" r="3.16"/>
<circle cx="1091.4" cy="307.78" r="3.16"/>
<circle cx="1091.4" cy="306.21" r="3.16"/>
<circle cx="1091.4" cy="304.37" r="3.16"/>
<circle cx="1091.4" cy="303.09" r="3.16"/>
<circle cx="1091.4" cy="301.38" r="3.16"/>
<circle cx="1091.4" cy="299.68" r="3.16"/>
<circle cx="1091.4" cy="298.01" r="3.16"/>
<circle cx="1091.4" cy="294.16" r="3.16"/>
<circle cx="1091.4" cy="292.67" r="3.16"/>
<circle cx="1091.4" cy="291.19" r="3.16"/>
<circle cx="1091.4" cy="290.6" r="3.16"/>
<circle cx="1091.4" cy="290.01" r="3.16"/>
<circle cx="1091.4" cy="289.41" r="3.16"/>
<circle cx="1091.4" cy="288.82" r="3.16"/>
<circle cx="1091.4" cy="288.52" r="3.16"/>
<circle cx="1149.4" cy="218.41" r="3.16"/>
<circle cx="1149.4" cy="221.43" r="3.16"/>
<circle cx="1149.4" cy="244.86" r="3.16"/>
<circle cx="1149.4" cy="251.39" r="3.16"/>
<circle cx="1149.4" cy="251.72" r="3.16"/>
<circle cx="1149.4" cy="259.25" r="3.16"/>
<circle cx="1149.4" cy="259.59" r="3.16"/>
<circle cx="1149.4" cy="270.63" r="3.16"/>
<circle cx="1149.4" cy="277.66" r="3.16"/>
<circle cx="1149.4" cy="278.5" r="3.16"/>
<circle cx="1149.4" cy="279.17" r="3.16"/>
<circle cx="1149.4" cy="321.18" r="3.16"/>
<circle cx="1149.4" cy="321.51" r="3.16"/>
<circle cx="1149.4" cy="330.72" r="3.16"/>
<circle cx="1149.4" cy="339.42" r="3.16"/>
<circle cx="1149.4" cy="357.33" r="3.16"/>
<circle cx="1149.4" cy="360.34" r="3.16"/>
<circle cx="1149.4" cy="402.35" r="3.16"/>
<circle cx="1149.4" cy="430.64" r="3.16"/>
<circle cx="1149.4" cy="468.63" r="3.16"/>
<circle cx="1149.4" cy="482.86" r="3.16"/>
<circle cx="1149.4" cy="484.7" r="3.16"/>
<circle cx="1149.4" cy="277.26" r="3.16"/>
<circle cx="1149.4" cy="278.3" r="3.16"/>
<circle cx="1149.4" cy="275.77" r="3.16"/>
<circle cx="1149.4" cy="288.07" r="3.16"/>
<circle cx="1149.4" cy="313.48" r="3.16"/>
<circle cx="1149.4" cy="311.44" r="3.16"/>
<circle cx="1149.4" cy="309.41" r="3.16"/>
<circle cx="1149.4" cy="307.49" r="3.16"/>
<circle cx="1149.4" cy="306.07" r="3.16"/>
<circle cx="1149.4" cy="304.22" r="3.16"/>
<circle cx="1149.4" cy="302.52" r="3.16"/>
<circle cx="1149.4" cy="301.1" r="3.16"/>
<circle cx="1149.4" cy="299.39" r="3.16"/>
<circle cx="1149.4" cy="297.71" r="3.16"/>
<circle cx="1149.4" cy="294.45" r="3.16"/>
<circle cx="1149.4" cy="292.97" r="3.16"/>
<circle cx="1149.4" cy="291.49" r="3.16"/>
<circle cx="1149.4" cy="290.89" r="3.16"/>
<circle cx="1149.4" cy="290.3" r="3.16"/>
<circle cx="1149.4" cy="289.71" r="3.16"/>
<circle cx="1149.4" cy="289.12" r="3.16"/>
<circle cx="1208.3" cy="183.27" r="3.16"/>
<circle cx="1208.3" cy="187.28" r="3.16"/>
<circle cx="1208.3" cy="201.51" r="3.16"/>
<circle cx="1208.3" cy="210.55" r="3.16"/>
<circle cx="1208.3" cy="246.7" r="3.16"/>
<circle cx="1208.3" cy="249.38" r="3.16"/>
<circle cx="1208.3" cy="248.54" r="3.16"/>
<circle cx="1208.3" cy="250.05" r="3.16"/>
<circle cx="1208.3" cy="251.72" r="3.16"/>
<circle cx="1208.3" cy="260.26" r="3.16"/>
<circle cx="1208.3" cy="261.76" r="3.16"/>
<circle cx="1208.3" cy="268.79" r="3.16"/>
<circle cx="1208.3" cy="269.29" r="3.16"/>
<circle cx="1208.3" cy="273.48" r="3.16"/>
<circle cx="1208.3" cy="280.51" r="3.16"/>
<circle cx="1208.3" cy="283.52" r="3.16"/>
<circle cx="1208.3" cy="290.55" r="3.16"/>
<circle cx="1208.3" cy="294.4" r="3.16"/>
<circle cx="1208.3" cy="296.91" r="3.16"/>
<circle cx="1208.3" cy="317.5" r="3.16"/>
<circle cx="1208.3" cy="317.83" r="3.16"/>
<circle cx="1208.3" cy="325.36" r="3.16"/>
<circle cx="1208.3" cy="327.71" r="3.16"/>
<circle cx="1208.3" cy="327.04" r="3.16"/>
<circle cx="1208.3" cy="336.91" r="3.16"/>
<circle cx="1208.3" cy="379.42" r="3.16"/>
<circle cx="1208.3" cy="428.97" r="3.16"/>
<circle cx="1208.3" cy="431.98" r="3.16"/>
<circle cx="1208.3" cy="433.32" r="3.16"/>
<circle cx="1208.3" cy="472.15" r="3.16"/>
<circle cx="1208.3" cy="481.35" r="3.16"/>
<circle cx="1208.3" cy="506.12" r="3.16"/>
<circle cx="1208.3" cy="522.53" r="3.16"/>
<circle cx="1208.3" cy="269.84" r="3.16"/>
<circle cx="1208.3" cy="282.58" r="3.16"/>
<circle cx="1208.3" cy="268.36" r="3.16"/>
<circle cx="1208.3" cy="309.96" r="3.16"/>
<circle cx="1208.3" cy="308.49" r="3.16"/>
<circle cx="1208.3" cy="307.07" r="3.16"/>
<circle cx="1208.3" cy="305.65" r="3.16"/>
<circle cx="1208.3" cy="304.65" r="3.16"/>
<circle cx="1208.3" cy="303.37" r="3.16"/>
<circle cx="1208.3" cy="302.23" r="3.16"/>
<circle cx="1267.3" cy="141.42" r="3.16"/>
<circle cx="1267.3" cy="155.65" r="3.16"/>
<circle cx="1267.3" cy="168.54" r="3.16"/>
<circle cx="1267.3" cy="202.51" r="3.16"/>
<circle cx="1267.3" cy="219.42" r="3.16"/>
<circle cx="1267.3" cy="244.69" r="3.16"/>
<circle cx="1267.3" cy="247.87" r="3.16"/>
<circle cx="1267.3" cy="249.21" r="3.16"/>
<circle cx="1267.3" cy="251.72" r="3.16"/>
<circle cx="1267.3" cy="255.07" r="3.16"/>
<circle cx="1267.3" cy="257.91" r="3.16"/>
<circle cx="1267.3" cy="258.42" r="3.16"/>
<circle cx="1267.3" cy="271.14" r="3.16"/>
<circle cx="1267.3" cy="270.8" r="3.16"/>
<circle cx="1267.3" cy="271.47" r="3.16"/>
<circle cx="1267.3" cy="279.34" r="3.16"/>
<circle cx="1267.3" cy="286.7" r="3.16"/>
<circle cx="1267.3" cy="286.37" r="3.16"/>
<circle cx="1267.3" cy="291.39" r="3.16"/>
<circle cx="1267.3" cy="298.25" r="3.16"/>
<circle cx="1267.3" cy="300.26" r="3.16"/>
<circle cx="1267.3" cy="302.1" r="3.16"/>
<circle cx="1267.3" cy="323.69" r="3.16"/>
<circle cx="1267.3" cy="326.03" r="3.16"/>
<circle cx="1267.3" cy="329.21" r="3.16"/>
<circle cx="1267.3" cy="333.06" r="3.16"/>
<circle cx="1267.3" cy="336.07" r="3.16"/>
<circle cx="1267.3" cy="339.26" r="3.16"/>
<circle cx="1267.3" cy="391.81" r="3.16"/>
<circle cx="1267.3" cy="402.19" r="3.16"/>
<circle cx="1267.3" cy="408.88" r="3.16"/>
<circle cx="1267.3" cy="489.22" r="3.16"/>
<circle cx="1267.3" cy="503.95" r="3.16"/>
<circle cx="1267.3" cy="506.63" r="3.16"/>
<circle cx="1267.3" cy="508.63" r="3.16"/>
<circle cx="1267.3" cy="515.5" r="3.16"/>
<circle cx="1267.3" cy="286.85" r="3.16"/>
<circle cx="1267.3" cy="283.8" r="3.16"/>
<circle cx="1267.3" cy="283.19" r="3.16"/>
<circle cx="1267.3" cy="315.89" r="3.16"/>
<circle cx="1267.3" cy="313.3" r="3.16"/>
<circle cx="1267.3" cy="310.15" r="3.16"/>
<circle cx="1267.3" cy="307.21" r="3.16"/>
<circle cx="1326.4" cy="113.47" r="3.16"/>
<circle cx="1326.4" cy="120.67" r="3.16"/>
<circle cx="1326.4" cy="169.37" r="3.16"/>
<circle cx="1326.4" cy="170.04" r="3.16"/>
<circle cx="1326.4" cy="227.62" r="3.16"/>
<circle cx="1326.4" cy="245.53" r="3.16"/>
<circle cx="1326.4" cy="246.2" r="3.16"/>
<circle cx="1326.4" cy="247.87" r="3.16"/>
<circle cx="1326.4" cy="251.72" r="3.16"/>
<circle cx="1326.4" cy="254.06" r="3.16"/>
<circle cx="1326.4" cy="261.76" r="3.16"/>
<circle cx="1326.4" cy="262.6" r="3.16"/>
<circle cx="1326.4" cy="262.93" r="3.16"/>
<circle cx="1326.4" cy="263.44" r="3.16"/>
<circle cx="1326.4" cy="266.78" r="3.16"/>
<circle cx="1326.4" cy="273.48" r="3.16"/>
<circle cx="1326.4" cy="278.83" r="3.16"/>
<circle cx="1326.4" cy="278.5" r="3.16"/>
<circle cx="1326.4" cy="279.17" r="3.16"/>
<circle cx="1326.4" cy="285.86" r="3.16"/>
<circle cx="1326.4" cy="292.89" r="3.16"/>
<circle cx="1326.4" cy="295.24" r="3.16"/>
<circle cx="1326.4" cy="298.25" r="3.16"/>
<circle cx="1326.4" cy="300.59" r="3.16"/>
<circle cx="1326.4" cy="313.65" r="3.16"/>
<circle cx="1326.4" cy="315.32" r="3.16"/>
<circle cx="1326.4" cy="321.85" r="3.16"/>
<circle cx="1326.4" cy="334.57" r="3.16"/>
<circle cx="1326.4" cy="336.91" r="3.16"/>
<circle cx="1326.4" cy="407.54" r="3.16"/>
<circle cx="1326.4" cy="431.31" r="3.16"/>
<circle cx="1326.4" cy="470.64" r="3.16"/>
<circle cx="1326.4" cy="471.81" r="3.16"/>
<circle cx="1326.4" cy="489.22" r="3.16"/>
<circle cx="1326.4" cy="498.26" r="3.16"/>
<circle cx="1326.4" cy="508.63" r="3.16"/>
<circle cx="1326.4" cy="524.53" r="3.16"/>
<circle cx="1326.4" cy="278.91" r="3.16"/>
<circle cx="1326.4" cy="279.52" r="3.16"/>
<circle cx="1326.4" cy="281.97" r="3.16"/>
<circle cx="1326.4" cy="300.53" r="3.16"/>
<circle cx="1326.4" cy="296.53" r="3.16"/>
<circle cx="1326.4" cy="292.08" r="3.16"/>
<circle cx="1384.5" cy="113.47" r="3.16"/>
<circle cx="1384.5" cy="146.11" r="3.16"/>
<circle cx="1384.5" cy="145.78" r="3.16"/>
<circle cx="1384.5" cy="213.56" r="3.16"/>
<circle cx="1384.5" cy="232.31" r="3.16"/>
<circle cx="1384.5" cy="244.69" r="3.16"/>
<circle cx="1384.5" cy="250.21" r="3.16"/>
<circle cx="1384.5" cy="250.55" r="3.16"/>
<circle cx="1384.5" cy="250.88" r="3.16"/>
<circle cx="1384.5" cy="255.07" r="3.16"/>
<circle cx="1384.5" cy="261.09" r="3.16"/>
<circle cx="1384.5" cy="261.43" r="3.16"/>
<circle cx="1384.5" cy="277.33" r="3.16"/>
<circle cx="1384.5" cy="279.67" r="3.16"/>
<circle cx="1384.5" cy="281.18" r="3.16"/>
<circle cx="1384.5" cy="278.83" r="3.16"/>
<circle cx="1384.5" cy="285.19" r="3.16"/>
<circle cx="1384.5" cy="290.55" r="3.16"/>
<circle cx="1384.5" cy="296.74" r="3.16"/>
<circle cx="1384.5" cy="296.91" r="3.16"/>
<circle cx="1384.5" cy="302.27" r="3.16"/>
<circle cx="1384.5" cy="301.93" r="3.16"/>
<circle cx="1384.5" cy="302.1" r="3.16"/>
<circle cx="1384.5" cy="307.62" r="3.16"/>
<circle cx="1384.5" cy="317.5" r="3.16"/>
<circle cx="1384.5" cy="336.07" r="3.16"/>
<circle cx="1384.5" cy="337.75" r="3.16"/>
<circle cx="1384.5" cy="342.77" r="3.16"/>
<circle cx="1384.5" cy="356.66" r="3.16"/>
<circle cx="1384.5" cy="376.41" r="3.16"/>
<circle cx="1384.5" cy="396.5" r="3.16"/>
<circle cx="1384.5" cy="485.2" r="3.16"/>
<circle cx="1384.5" cy="505.96" r="3.16"/>
<circle cx="1384.5" cy="522.53" r="3.16"/>
<circle cx="1384.5" cy="583.45" r="3.16"/>
<circle cx="1384.5" cy="583.78" r="3.16"/>
<circle cx="1384.5" cy="630.81" r="3.16"/>
<circle cx="1384.5" cy="280.74" r="3.16"/>
<circle cx="1384.5" cy="280.13" r="3.16"/>
<circle cx="1384.5" cy="281.35" r="3.16"/>
<circle cx="1384.5" cy="315.15" r="3.16"/>
<circle cx="1384.5" cy="312" r="3.16"/>
<circle cx="1384.5" cy="308.63" r="3.16"/>
</g>
<line x1="869" y1="87" x2="869" y2="657" stroke="#b0b0b0" stroke-opacity="0.3" stroke-width="1.6"/>
<line x1="953" y1="87" x2="953" y2="657" stroke="#b0b0b0" stroke-opacity="0.3" stroke-width="1.6"/>
<line x1="1037" y1="87" x2="1037" y2="657" stroke="#b0b0b0" stroke-opacity="0.3" stroke-width="1.6"/>
<line x1="1122" y1="87" x2="1122" y2="657" stroke="#b0b0b0" stroke-opacity="0.3" stroke-width="1.6"/>
<line x1="1206" y1="87" x2="1206" y2="657" stroke="#b0b0b0" stroke-opacity="0.3" stroke-width="1.6"/>
<line x1="1290" y1="87" x2="1290" y2="657" stroke="#b0b0b0" stroke-opacity="0.3" stroke-width="1.6"/>
<line x1="1374" y1="87" x2="1374" y2="657" stroke="#b0b0b0" stroke-opacity="0.3" stroke-width="1.6"/>
<line x1="830" y1="645" x2="1411" y2="645" stroke="#b0b0b0" stroke-opacity="0.3" stroke-width="1.6"/>
<line x1="830" y1="561" x2="1411" y2="561" stroke="#b0b0b0" stroke-opacity="0.3" stroke-width="1.6"/>
<line x1="830" y1="478" x2="1411" y2="478" stroke="#b0b0b0" stroke-opacity="0.3" stroke-width="1.6"/>
<line x1="830" y1="394" x2="1411" y2="394" stroke="#b0b0b0" stroke-opacity="0.3" stroke-width="1.6"/>
<line x1="830" y1="310" x2="1411" y2="310" stroke="#b0b0b0" stroke-opacity="0.3" stroke-width="1.6"/>
<line x1="830" y1="227" x2="1411" y2="227" stroke="#b0b0b0" stroke-opacity="0.3" stroke-width="1.6"/>
<line x1="830" y1="143" x2="1411" y2="143" stroke="#b0b0b0" stroke-opacity="0.3" stroke-width="1.6"/>
<line x1="830" y1="310" x2="1411" y2="310" stroke="#f00" stroke-width="4" stroke-dasharray="14.8 6.4"/>
</g>
<rect x="830" y="87" width="581" height="570" fill="none" stroke="#000" stroke-width="1.6"/>
<line x1="869" y1="657" x2="869" y2="664" stroke="#000" stroke-width="1.6"/>
<text x="869" y="686" font-size="20" text-anchor="middle">200</text>
<line x1="953" y1="657" x2="953" y2="664" stroke="#000" stroke-width="1.6"/>
<text x="953" y="686" font-size="20" text-anchor="middle">400</text>
<line x1="1037" y1="657" x2="1037" y2="664" stroke="#000" stroke-width="1.6"/>
<text x="1037" y="686" font-size="20" text-anchor="middle">600</text>
<line x1="1122" y1="657" x2="1122" y2="664" stroke="#000" stroke-width="1.6"/>
<text x="1122" y="686" font-size="20" text-anchor="middle">800</text>
<line x1="1206" y1="657" x2="1206" y2="664" stroke="#000" stroke-width="1.6"/>
<text x="1206" y="686" font-size="20" text-anchor="middle">1000</text>
<line x1="1290" y1="657" x2="1290" y2="664" stroke="#000" stroke-width="1.6"/>
<text x="1290" y="686" font-size="20" text-anchor="middle">1200</text>
<line x1="1374" y1="657" x2="1374" y2="664" stroke="#000" stroke-width="1.6"/>
<text x="1374" y="686" font-size="20" text-anchor="middle">1400</text>
<line x1="823" y1="645" x2="830" y2="645" stroke="#000" stroke-width="1.6"/>
<text x="815.5" y="652.6" font-size="20" text-anchor="end">−200</text>
<line x1="823" y1="561" x2="830" y2="561" stroke="#000" stroke-width="1.6"/>
<text x="815.5" y="568.6" font-size="20" text-anchor="end">−150</text>
<line x1="823" y1="478" x2="830" y2="478" stroke="#000" stroke-width="1.6"/>
<text x="815.5" y="485.6" font-size="20" text-anchor="end">−100</text>
<line x1="823" y1="394" x2="830" y2="394" stroke="#000" stroke-width="1.6"/>
<text x="815.5" y="401.6" font-size="20" text-anchor="end">−50</text>
<line x1="823" y1="310" x2="830" y2="310" stroke="#000" stroke-width="1.6"/>
<text x="815.5" y="317.6" font-size="20" text-anchor="end">0</text>
<line x1="823" y1="227" x2="830" y2="227" stroke="#000" stroke-width="1.6"/>
<text x="815.5" y="234.6" font-size="20" text-anchor="end">50</text>
<line x1="823" y1="143" x2="830" y2="143" stroke="#000" stroke-width="1.6"/>
<text x="815.5" y="150.6" font-size="20" text-anchor="end">100</text>
<text x="1119.5" y="713" font-size="20" text-anchor="middle">Predicted run_duration_ms</text>
<text x="749" y="373.5" font-size="20" text-anchor="middle" transform="rotate(-90 749 373.5)">Residuals</text>
<text x="398.5" y="760" font-size="24" text-anchor="middle">Residual Distribution</text>
<g clip-path="url(#c3)">
<g fill="#1f77b4" fill-opacity="0.7" stroke="#000" stroke-opacity="0.7" stroke-width="2" stroke-linejoin="miter">
<rect x="134" y="1335" width="11" height="7"/>
<rect x="177" y="1328" width="10" height="14"/>
<rect x="240" y="1321" width="11" height="21"/>
<rect x="251" y="1315" width="10" height="27"/>
<rect x="261" y="1315" width="11" height="27"/>
<rect x="272" y="1328" width="10" height="14"/>
<rect x="282" y="1315" width="11" height="27"/>
<rect x="293" y="1315" width="10" height="27"/>
<rect x="335" y="1274" width="11" height="68"/>
<rect x="346" y="1335" width="10" height="7"/>
<rect x="356" y="1308" width="11" height="34"/>
<rect x="367" y="1315" width="10" height="27"/>
<rect x="377" y="1328" width="11" height="14"/>
<rect x="388" y="1308" width="10" height="34"/>
<rect x="398" y="1321" width="11" height="21"/>
<rect x="409" y="1294" width="10" height="48"/>
<rect x="419" y="1308" width="11" height="34"/>
<rect x="430" y="1253" width="11" height="89"/>
<rect x="441" y="1172" width="10" height="170"/>
<rect x="451" y="914" width="11" height="428"/>
<rect x="462" y="799" width="10" height="543"/>
<rect x="472" y="1009" width="11" height="333"/>
<rect x="483" y="1091" width="10" height="251"/>
<rect x="493" y="1172" width="11" height="170"/>
<rect x="504" y="1226" width="10" height="116"/>
<rect x="514" y="1206" width="11" height="136"/>
<rect x="525" y="1260" width="11" height="82"/>
<rect x="536" y="1328" width="10" height="14"/>
<rect x="546" y="1308" width="11" height="34"/>
<rect x="557" y="1328" width="10" height="14"/>
<rect x="567" y="1328" width="11" height="14"/>
<rect x="578" y="1335" width="10" height="7"/>
<rect x="588" y="1335" width="11" height="7"/>
<rect x="599" y="1321" width="11" height="21"/>
<rect x="610" y="1335" width="10" height="7"/>
<rect x="620" y="1328" width="11" height="14"/>
<rect x="631" y="1335" width="10" height="7"/>
<rect x="652" y="1321" width="10" height="21"/>
</g>
<line x1="120" y1="772" x2="120" y2="1342" stroke="#b0b0b0" stroke-opacity="0.3" stroke-width="1.6"/>
<line x1="205" y1="772" x2="205" y2="1342" stroke="#b0b0b0" stroke-opacity="0.3" stroke-width="1.6"/>
<line x1="290" y1="772" x2="290" y2="1342" stroke="#b0b0b0" stroke-opacity="0.3" stroke-width="1.6"/>
<line x1="376" y1="772" x2="376" y2="1342" stroke="#b0b0b0" stroke-opacity="0.3" stroke-width="1.6"/>
<line x1="461" y1="772" x2="461" y2="1342" stroke="#b0b0b0" stroke-opacity="0.3" stroke-width="1.6"/>
<line x1="546" y1="772" x2="546" y2="1342" stroke="#b0b0b0" stroke-opacity="0.3" stroke-width="1.6"/>
<line x1="631" y1="772" x2="631" y2="1342" stroke="#b0b0b0" stroke-opacity="0.3" stroke-width="1.6"/>
<line x1="108" y1="1342" x2="689" y2="1342" stroke="#b0b0b0" stroke-opacity="0.3" stroke-width="1.6"/>
<line x1="108" y1="1274" x2="689" y2="1274" stroke="#b0b0b0" stroke-opacity="0.3" stroke-width="1.6"/>
<line x1="108" y1="1206" x2="689" y2="1206" stroke="#b0b0b0" stroke-opacity="0.3" stroke-width="1.6"/>
<line x1="108" y1="1138" x2="689" y2="1138" stroke="#b0b0b0" stroke-opacity="0.3" stroke-width="1.6"/>
<line x1="108" y1="1070" x2="689" y2="1070" stroke="#b0b0b0" stroke-opacity="0.3" stroke-width="1.6"/>
<line x1="108" y1="1002" x2="689" y2="1002" stroke="#b0b0b0" stroke-opacity="0.3" stroke-width="1.6"/>
<line x1="108" y1="935" x2="689" y2="935" stroke="#b0b0b0" stroke-opacity="0.3" stroke-width="1.6"/>
<line x1="108" y1="867" x2="689" y2="867" stroke="#b0b0b0" stroke-opacity="0.3" stroke-width="1.6"/>
<line x1="108" y1="799" x2="689" y2="799" stroke="#b0b0b0" stroke-opacity="0.3" stroke-width="1.6"/>
<line x1="461.2" y1="1342" x2="461.2" y2="772" stroke="#f00" stroke-width="4" stroke-dasharray="14.8 6.4"/>
</g>
<rect x="108" y="772" width="581" height="570" fill="none" stroke="#000" stroke-width="1.6"/>
<line x1="120" y1="1342" x2="120" y2="1349" stroke="#000" stroke-width="1.6"/>
<text x="120" y="1371" font-size="20" text-anchor="middle">−200</text>
<line x1="205" y1="1342" x2="205" y2="1349" stroke="#000" stroke-width="1.6"/>
<text x="205" y="1371" font-size="20" text-anchor="middle">−150</text>
<line x1="290" y1="1342" x2="290" y2="1349" stroke="#000" stroke-width="1.6"/>
<text x="290" y="1371" font-size="20" text-anchor="middle">−100</text>
<line x1="376" y1="1342" x2="376" y2="1349" stroke="#000" stroke-width="1.6"/>
<text x="376" y="1371" font-size="20" text-anchor="middle">−50</text>
<line x1="461" y1="1342" x2="461" y2="1349" stroke="#000" stroke-width="1.6"/>
<text x="461" y="1371" font-size="20" text-anchor="middle">0</text>
<line x1="546" y1="1342" x2="546" y2="1349" stroke="#000" stroke-width="1.6"/>
<text x="546" y="1371" font-size="20" text-anchor="middle">50</text>
<line x1="631" y1="1342" x2="631" y2="1349" stroke="#000" stroke-width="1.6"/>
<text x="631" y="1371" font-size="20" text-anchor="middle">100</text>
<line x1="101" y1="1342" x2="108" y2="1342" stroke="#000" stroke-width="1.6"/>
<text x="93.5" y="1349.6" font-size="20" text-anchor="end">0</text>
<line x1="101" y1="1274" x2="108" y2="1274" stroke="#000" stroke-width="1.6"/>
<text x="93.5" y="1281.6" font-size="20" text-anchor="end">10</text>
<line x1="101" y1="1206" x2="108" y2="1206" stroke="#000" stroke-width="1.6"/>
<text x="93.5" y="1213.6" font-size="20" text-anchor="end">20</text>
<line x1="101" y1="1138" x2="108" y2="1138" stroke="#000" stroke-width="1.6"/>
<text x="93.5" y="1145.6" font-size="20" text-anchor="end">30</text>
<line x1="101" y1="1070" x2="108" y2="1070" stroke="#000" stroke-width="1.6"/>
<text x="93.5" y="1077.6" font-size="20" text-anchor="end">40</text>
<line x1="101" y1="1002" x2="108" y2="1002" stroke="#000" stroke-width="1.6"/>
<text x="93.5" y="1009.6" font-size="20" text-anchor="end">50</text>
<line x1="101" y1="935" x2="108" y2="935" stroke="#000" stroke-width="1.6"/>
<text x="93.5" y="942.6" font-size="20" text-anchor="end">60</text>
<line x1="101" y1="867" x2="108" y2="867" stroke="#000" stroke-width="1.6"/>
<text x="93.5" y="874.6" font-size="20" text-anchor="end">70</text>
<line x1="101" y1="799" x2="108" y2="799" stroke="#000" stroke-width="1.6"/>
<text x="93.5" y="806.6" font-size="20" text-anchor="end">80</text>
<text x="398.5" y="1398" font-size="20" text-anchor="middle">Residuals</text>
<text x="57" y="1058.5" font-size="20" text-anchor="middle" transform="rotate(-90 57 1058.5)">Frequency</text>
<text x="1119.7" y="760" font-size="24" text-anchor="middle">Normal Q-Q Plot</text>
<g clip-path="url(#c4)">
<line x1="851" y1="772" x2="851" y2="1342" stroke="#b0b0b0" stroke-opacity="0.3" stroke-width="1.6"/>
<line x1="941" y1="772" x2="941" y2="1342" stroke="#b0b0b0" stroke-opacity="0.3" stroke-width="1.6"/>
<line x1="1030" y1="772" x2="1030" y2="1342" stroke="#b0b0b0" stroke-opacity="0.3" stroke-width="1.6"/>
<line x1="1120" y1="772" x2="1120" y2="1342" stroke="#b0b0b0" stroke-opacity="0.3" stroke-width="1.6"/>
<line x1="1210" y1="772" x2="1210" y2="1342" stroke="#b0b0b0" stroke-opacity="0.3" stroke-width="1.6"/>
<line x1="1300" y1="772" x2="1300" y2="1342" stroke="#b0b0b0" stroke-opacity="0.3" stroke-width="1.6"/>
<line x1="1389" y1="772" x2="1389" y2="1342" stroke="#b0b0b0" stroke-opacity="0.3" stroke-width="1.6"/>
<line x1="830" y1="1330" x2="1411" y2="1330" stroke="#b0b0b0" stroke-opacity="0.3" stroke-width="1.6"/>
<line x1="830" y1="1246" x2="1411" y2="1246" stroke="#b0b0b0" stroke-opacity="0.3" stroke-width="1.6"/>
<line x1="830" y1="1163" x2="1411" y2="1163" stroke="#b0b0b0" stroke-opacity="0.3" stroke-width="1.6"/>
<line x1="830" y1="1079" x2="1411" y2="1079" stroke="#b0b0b0" stroke-opacity="0.3" stroke-width="1.6"/>
<line x1="830" y1="995" x2="1411" y2="995" stroke="#b0b0b0" stroke-opacity="0.3" stroke-width="1.6"/>
<line x1="830" y1="912" x2="1411" y2="912" stroke="#b0b0b0" stroke-opacity="0.3" stroke-width="1.6"/>
<line x1="830" y1="828" x2="1411" y2="828" stroke="#b0b0b0" stroke-opacity="0.3" stroke-width="1.6"/>
<g fill="#00f">
<circle cx="855.86" cy="1315.71" r="6.7"/>
<circle cx="881.52" cy="1268.68" r="6.7"/>
<circle cx="895.97" cy="1268.35" r="6.7"/>
<circle cx="906.23" cy="1209.43" r="6.7"/>
<circle cx="914.28" cy="1207.43" r="6.7"/>
<circle cx="920.95" cy="1207.43" r="6.7"/>
<circle cx="926.67" cy="1200.4" r="6.7"/>
<circle cx="931.7" cy="1193.53" r="6.7"/>
<circle cx="936.2" cy="1193.53" r="6.7"/>
<circle cx="940.28" cy="1191.53" r="6.7"/>
<circle cx="944.02" cy="1191.02" r="6.7"/>
<circle cx="947.47" cy="1190.86" r="6.7"/>
<circle cx="950.69" cy="1188.85" r="6.7"/>
<circle cx="953.7" cy="1183.16" r="6.7"/>
<circle cx="956.54" cy="1174.12" r="6.7"/>
<circle cx="959.22" cy="1174.12" r="6.7"/>
<circle cx="961.76" cy="1170.1" r="6.7"/>
<circle cx="964.18" cy="1169.6" r="6.7"/>
<circle cx="966.5" cy="1167.76" r="6.7"/>
<circle cx="968.71" cy="1166.25" r="6.7"/>
<circle cx="970.84" cy="1157.05" r="6.7"/>
<circle cx="972.89" cy="1156.71" r="6.7"/>
<circle cx="974.86" cy="1155.54" r="6.7"/>
<circle cx="976.77" cy="1153.53" r="6.7"/>
<circle cx="978.61" cy="1118.22" r="6.7"/>
<circle cx="980.39" cy="1116.88" r="6.7"/>
<circle cx="982.12" cy="1116.71" r="6.7"/>
<circle cx="983.8" cy="1116.71" r="6.7"/>
<circle cx="985.44" cy="1116.21" r="6.7"/>
<circle cx="987.03" cy="1115.54" r="6.7"/>
<circle cx="988.58" cy="1114.37" r="6.7"/>
<circle cx="990.09" cy="1113.87" r="6.7"/>
<circle cx="991.57" cy="1112.53" r="6.7"/>
<circle cx="993.01" cy="1112.53" r="6.7"/>
<circle cx="994.42" cy="1103.49" r="6.7"/>
<circle cx="995.8" cy="1093.78" r="6.7"/>
<circle cx="997.15" cy="1092.44" r="6.7"/>
<circle cx="998.47" cy="1091.44" r="6.7"/>
<circle cx="999.77" cy="1091.44" r="6.7"/>
<circle cx="1001.04" cy="1089.26" r="6.7"/>
<circle cx="1002.29" cy="1087.25" r="6.7"/>
<circle cx="1003.52" cy="1087.09" r="6.7"/>
<circle cx="1004.72" cy="1081.4" r="6.7"/>
<circle cx="1005.91" cy="1080.39" r="6.7"/>
<circle cx="1007.07" cy="1076.71" r="6.7"/>
<circle cx="1008.22" cy="1070.35" r="6.7"/>
<circle cx="1009.35" cy="1064.32" r="6.7"/>
<circle cx="1010.46" cy="1061.31" r="6.7"/>
<circle cx="1011.55" cy="1060.31" r="6.7"/>
<circle cx="1012.63" cy="1059.47" r="6.7"/>
<circle cx="1013.7" cy="1057.8" r="6.7"/>
<circle cx="1014.74" cy="1053.11" r="6.7"/>
<circle cx="1015.78" cy="1050.6" r="6.7"/>
<circle cx="1016.8" cy="1048.42" r="6.7"/>
<circle cx="1017.81" cy="1045.24" r="6.7"/>
<circle cx="1018.8" cy="1044.07" r="6.7"/>
<circle cx="1019.78" cy="1042.23" r="6.7"/>
<circle cx="1020.75" cy="1041.56" r="6.7"/>
<circle cx="1021.71" cy="1041.39" r="6.7"/>
<circle cx="1022.66" cy="1039.22" r="6.7"/>
<circle cx="1023.6" cy="1037.54" r="6.7"/>
<circle cx="1024.53" cy="1035.37" r="6.7"/>
<circle cx="1025.44" cy="1034.03" r="6.7"/>
<circle cx="1026.35" cy="1032.19" r="6.7"/>
<circle cx="1027.25" cy="1031.35" r="6.7"/>
<circle cx="1028.13" cy="1027.67" r="6.7"/>
<circle cx="1029.01" cy="1024.32" r="6.7"/>
<circle cx="1029.88" cy="1024.16" r="6.7"/>
<circle cx="1030.75" cy="1024.16" r="6.7"/>
<circle cx="1031.6" cy="1022.65" r="6.7"/>
<circle cx="1032.45" cy="1022.65" r="6.7"/>
<circle cx="1033.28" cy="1021.81" r="6.7"/>
<circle cx="1034.12" cy="1021.81" r="6.7"/>
<circle cx="1034.94" cy="1020.97" r="6.7"/>
<circle cx="1035.76" cy="1020.97" r="6.7"/>
<circle cx="1036.56" cy="1019.47" r="6.7"/>
<circle cx="1037.37" cy="1017.96" r="6.7"/>
<circle cx="1038.16" cy="1017.63" r="6.7"/>
<circle cx="1038.95" cy="1015.62" r="6.7"/>
<circle cx="1039.74" cy="1014.45" r="6.7"/>
<circle cx="1040.51" cy="1014.11" r="6.7"/>
<circle cx="1041.29" cy="1013.74" r="6.7"/>
<circle cx="1042.05" cy="1012.61" r="6.7"/>
<circle cx="1042.81" cy="1012.44" r="6.7"/>
<circle cx="1043.57" cy="1012.44" r="6.7"/>
<circle cx="1044.32" cy="1011.94" r="6.7"/>
<circle cx="1045.06" cy="1011.67" r="6.7"/>
<circle cx="1045.8" cy="1010.93" r="6.7"/>
<circle cx="1046.53" cy="1010.93" r="6.7"/>
<circle cx="1047.26" cy="1010.26" r="6.7"/>
<circle cx="1047.98" cy="1009.59" r="6.7"/>
<circle cx="1048.7" cy="1009.59" r="6.7"/>
<circle cx="1049.42" cy="1009.26" r="6.7"/>
<circle cx="1050.13" cy="1009.09" r="6.7"/>
<circle cx="1050.84" cy="1008.59" r="6.7"/>
<circle cx="1051.54" cy="1008.59" r="6.7"/>
<circle cx="1052.24" cy="1007.52" r="6.7"/>
<circle cx="1052.93" cy="1007.25" r="6.7"/>
<circle cx="1053.62" cy="1006.92" r="6.7"/>
<circle cx="1054.3" cy="1006.75" r="6.7"/>
<circle cx="1054.99" cy="1006.41" r="6.7"/>
<circle cx="1055.66" cy="1006.08" r="6.7"/>
<circle cx="1056.34" cy="1005.44" r="6.7"/>
<circle cx="1057.01" cy="1004.74" r="6.7"/>
<circle cx="1057.68" cy="1004.31" r="6.7"/>
<circle cx="1058.34" cy="1004.24" r="6.7"/>
<circle cx="1059" cy="1004.13" r="6.7"/>
<circle cx="1059.66" cy="1003.94" r="6.7"/>
<circle cx="1060.31" cy="1003.76" r="6.7"/>
<circle cx="1060.96" cy="1003.57" r="6.7"/>
<circle cx="1061.61" cy="1003.39" r="6.7"/>
<circle cx="1062.26" cy="1003.2" r="6.7"/>
<circle cx="1062.9" cy="1003.02" r="6.7"/>
<circle cx="1063.54" cy="1002.83" r="6.7"/>
<circle cx="1064.17" cy="1002.73" r="6.7"/>
<circle cx="1064.81" cy="1002.64" r="6.7"/>
<circle cx="1065.44" cy="1002.46" r="6.7"/>
<circle cx="1066.06" cy="1002.4" r="6.7"/>
<circle cx="1066.69" cy="1002.4" r="6.7"/>
<circle cx="1067.31" cy="1002.27" r="6.7"/>
<circle cx="1067.93" cy="1002.09" r="6.7"/>
<circle cx="1068.55" cy="1001.9" r="6.7"/>
<circle cx="1069.16" cy="1001.72" r="6.7"/>
<circle cx="1069.78" cy="1001.53" r="6.7"/>
<circle cx="1070.39" cy="1001.35" r="6.7"/>
<circle cx="1070.99" cy="1001.16" r="6.7"/>
<circle cx="1071.6" cy="1000.98" r="6.7"/>
<circle cx="1072.2" cy="1000.79" r="6.7"/>
<circle cx="1072.81" cy="1000.61" r="6.7"/>
<circle cx="1073.4" cy="1000.42" r="6.7"/>
<circle cx="1074" cy="1000.24" r="6.7"/>
<circle cx="1074.6" cy="1000.22" r="6.7"/>
<circle cx="1075.19" cy="1000.05" r="6.7"/>
<circle cx="1075.78" cy="999.87" r="6.7"/>
<circle cx="1076.37" cy="999.68" r="6.7"/>
<circle cx="1076.96" cy="999.49" r="6.7"/>
<circle cx="1077.54" cy="999.38" r="6.7"/>
<circle cx="1078.13" cy="999.31" r="6.7"/>
<circle cx="1078.71" cy="999.12" r="6.7"/>
<circle cx="1079.29" cy="998.94" r="6.7"/>
<circle cx="1079.87" cy="998.75" r="6.7"/>
<circle cx="1080.45" cy="998.57" r="6.7"/>
<circle cx="1081.02" cy="998.55" r="6.7"/>
<circle cx="1081.59" cy="998.38" r="6.7"/>
<circle cx="1082.17" cy="998.2" r="6.7"/>
<circle cx="1082.74" cy="998.01" r="6.7"/>
<circle cx="1083.31" cy="997.83" r="6.7"/>
<circle cx="1083.87" cy="997.64" r="6.7"/>
<circle cx="1084.44" cy="997.46" r="6.7"/>
<circle cx="1085" cy="997.27" r="6.7"/>
<circle cx="1085.57" cy="997.09" r="6.7"/>
<circle cx="1086.13" cy="996.9" r="6.7"/>
<circle cx="1086.69" cy="996.72" r="6.7"/>
<circle cx="1087.25" cy="996.53" r="6.7"/>
<circle cx="1087.81" cy="996.34" r="6.7"/>
<circle cx="1088.36" cy="996.16" r="6.7"/>
<circle cx="1088.92" cy="995.97" r="6.7"/>
<circle cx="1089.47" cy="995.79" r="6.7"/>
<circle cx="1090.03" cy="995.6" r="6.7"/>
<circle cx="1090.58" cy="995.42" r="6.7"/>
<circle cx="1091.13" cy="995.23" r="6.7"/>
<circle cx="1091.68" cy="995.05" r="6.7"/>
<circle cx="1092.23" cy="994.86" r="6.7"/>
<circle cx="1092.78" cy="994.68" r="6.7"/>
<circle cx="1093.32" cy="994.49" r="6.7"/>
<circle cx="1093.87" cy="994.31" r="6.7"/>
<circle cx="1094.41" cy="994.12" r="6.7"/>
<circle cx="1094.96" cy="993.96" r="6.7"/>
<circle cx="1095.5" cy="993.82" r="6.7"/>
<circle cx="1096.04" cy="993.67" r="6.7"/>
<circle cx="1096.58" cy="993.53" r="6.7"/>
<circle cx="1097.12" cy="993.39" r="6.7"/>
<circle cx="1097.66" cy="993.25" r="6.7"/>
<circle cx="1098.2" cy="993.1" r="6.7"/>
<circle cx="1098.74" cy="992.96" r="6.7"/>
<circle cx="1099.28" cy="992.82" r="6.7"/>
<circle cx="1099.81" cy="992.68" r="6.7"/>
<circle cx="1100.35" cy="992.54" r="6.7"/>
<circle cx="1100.88" cy="992.52" r="6.7"/>
<circle cx="1101.42" cy="992.39" r="6.7"/>
<circle cx="1101.95" cy="992.25" r="6.7"/>
<circle cx="1102.49" cy="992.11" r="6.7"/>
<circle cx="1103.02" cy="991.97" r="6.7"/>
<circle cx="1103.55" cy="991.83" r="6.7"/>
<circle cx="1104.08" cy="991.68" r="6.7"/>
<circle cx="1104.61" cy="991.54" r="6.7"/>
<circle cx="1105.14" cy="991.4" r="6.7"/>
<circle cx="1105.67" cy="991.26" r="6.7"/>
<circle cx="1106.2" cy="991.11" r="6.7"/>
<circle cx="1106.73" cy="990.97" r="6.7"/>
<circle cx="1107.26" cy="990.83" r="6.7"/>
<circle cx="1107.78" cy="990.69" r="6.7"/>
<circle cx="1108.31" cy="990.55" r="6.7"/>
<circle cx="1108.84" cy="990.4" r="6.7"/>
<circle cx="1109.36" cy="990.26" r="6.7"/>
<circle cx="1109.89" cy="990.12" r="6.7"/>
<circle cx="1110.42" cy="989.98" r="6.7"/>
<circle cx="1110.94" cy="989.83" r="6.7"/>
<circle cx="1111.47" cy="989.69" r="6.7"/>
<circle cx="1111.99" cy="989.55" r="6.7"/>
<circle cx="1112.52" cy="989.41" r="6.7"/>
<circle cx="1113.04" cy="989.27" r="6.7"/>
<circle cx="1113.56" cy="989.12" r="6.7"/>
<circle cx="1114.09" cy="988.98" r="6.7"/>
<circle cx="1114.61" cy="988.84" r="6.7"/>
<circle cx="1115.13" cy="988.7" r="6.7"/>
<circle cx="1115.66" cy="988.56" r="6.7"/>
<circle cx="1116.18" cy="988.41" r="6.7"/>
<circle cx="1116.7" cy="988.27" r="6.7"/>
<circle cx="1117.23" cy="988.13" r="6.7"/>
<circle cx="1117.75" cy="987.99" r="6.7"/>
<circle cx="1118.27" cy="987.84" r="6.7"/>
<circle cx="1118.79" cy="987.7" r="6.7"/>
<circle cx="1119.32" cy="987.56" r="6.7"/>
<circle cx="1119.84" cy="987.42" r="6.7"/>
<circle cx="1120.36" cy="987.28" r="6.7"/>
<circle cx="1120.88" cy="987.17" r="6.7"/>
<circle cx="1121.41" cy="987.13" r="6.7"/>
<circle cx="1121.93" cy="987" r="6.7"/>
<circle cx="1122.45" cy="987" r="6.7"/>
<circle cx="1122.97" cy="986.99" r="6.7"/>
<circle cx="1123.5" cy="986.85" r="6.7"/>
<circle cx="1124.02" cy="986.83" r="6.7"/>
<circle cx="1124.54" cy="986.71" r="6.7"/>
<circle cx="1125.07" cy="986.57" r="6.7"/>
<circle cx="1125.59" cy="986.42" r="6.7"/>
<circle cx="1126.11" cy="986.28" r="6.7"/>
<circle cx="1126.64" cy="986.14" r="6.7"/>
<circle cx="1127.16" cy="986" r="6.7"/>
<circle cx="1127.68" cy="985.85" r="6.7"/>
<circle cx="1128.21" cy="985.71" r="6.7"/>
<circle cx="1128.73" cy="985.57" r="6.7"/>
<circle cx="1129.26" cy="985.49" r="6.7"/>
<circle cx="1129.78" cy="985.43" r="6.7"/>
<circle cx="1130.31" cy="985.29" r="6.7"/>
<circle cx="1130.84" cy="985.16" r="6.7"/>
<circle cx="1131.36" cy="985.14" r="6.7"/>
<circle cx="1131.89" cy="985" r="6.7"/>
<circle cx="1132.42" cy="984.86" r="6.7"/>
<circle cx="1132.94" cy="984.72" r="6.7"/>
<circle cx="1133.47" cy="984.58" r="6.7"/>
<circle cx="1134" cy="984.43" r="6.7"/>
<circle cx="1134.53" cy="984.29" r="6.7"/>
<circle cx="1135.06" cy="984.15" r="6.7"/>
<circle cx="1135.59" cy="984.01" r="6.7"/>
<circle cx="1136.12" cy="983.86" r="6.7"/>
<circle cx="1136.65" cy="983.72" r="6.7"/>
<circle cx="1137.18" cy="983.5" r="6.7"/>
<circle cx="1137.71" cy="983.21" r="6.7"/>
<circle cx="1138.25" cy="983.15" r="6.7"/>
<circle cx="1138.78" cy="983.15" r="6.7"/>
<circle cx="1139.32" cy="982.91" r="6.7"/>
<circle cx="1139.85" cy="982.61" r="6.7"/>
<circle cx="1140.39" cy="982.32" r="6.7"/>
<circle cx="1140.92" cy="982.02" r="6.7"/>
<circle cx="1141.46" cy="981.81" r="6.7"/>
<circle cx="1142" cy="981.81" r="6.7"/>
<circle cx="1142.54" cy="981.72" r="6.7"/>
<circle cx="1143.08" cy="981.64" r="6.7"/>
<circle cx="1143.62" cy="981.43" r="6.7"/>
<circle cx="1144.16" cy="981.13" r="6.7"/>
<circle cx="1144.7" cy="980.83" r="6.7"/>
<circle cx="1145.24" cy="980.54" r="6.7"/>
<circle cx="1145.79" cy="980.24" r="6.7"/>
<circle cx="1146.33" cy="980.14" r="6.7"/>
<circle cx="1146.88" cy="979.95" r="6.7"/>
<circle cx="1147.42" cy="979.65" r="6.7"/>
<circle cx="1147.97" cy="979.35" r="6.7"/>
<circle cx="1148.52" cy="979.3" r="6.7"/>
<circle cx="1149.07" cy="979.06" r="6.7"/>
<circle cx="1149.62" cy="978.76" r="6.7"/>
<circle cx="1150.17" cy="978.46" r="6.7"/>
<circle cx="1150.73" cy="978.17" r="6.7"/>
<circle cx="1151.28" cy="977.87" r="6.7"/>
<circle cx="1151.84" cy="977.79" r="6.7"/>
<circle cx="1152.39" cy="977.57" r="6.7"/>
<circle cx="1152.95" cy="977.28" r="6.7"/>
<circle cx="1153.51" cy="976.98" r="6.7"/>
<circle cx="1154.07" cy="976.68" r="6.7"/>
<circle cx="1154.63" cy="976.39" r="6.7"/>
<circle cx="1155.2" cy="976.29" r="6.7"/>
<circle cx="1155.76" cy="976.29" r="6.7"/>
<circle cx="1156.33" cy="976.09" r="6.7"/>
<circle cx="1156.89" cy="975.79" r="6.7"/>
<circle cx="1157.46" cy="975.5" r="6.7"/>
<circle cx="1158.03" cy="975.45" r="6.7"/>
<circle cx="1158.61" cy="975.45" r="6.7"/>
<circle cx="1159.18" cy="975.45" r="6.7"/>
<circle cx="1159.75" cy="975.2" r="6.7"/>
<circle cx="1160.33" cy="974.91" r="6.7"/>
<circle cx="1160.91" cy="974.61" r="6.7"/>
<circle cx="1161.49" cy="974.31" r="6.7"/>
<circle cx="1162.07" cy="974.28" r="6.7"/>
<circle cx="1162.66" cy="974.02" r="6.7"/>
<circle cx="1163.24" cy="973.72" r="6.7"/>
<circle cx="1163.83" cy="973.42" r="6.7"/>
<circle cx="1164.42" cy="972.97" r="6.7"/>
<circle cx="1165.01" cy="972.44" r="6.7"/>
<circle cx="1165.6" cy="972.36" r="6.7"/>
<circle cx="1166.2" cy="971.75" r="6.7"/>
<circle cx="1166.8" cy="971.6" r="6.7"/>
<circle cx="1167.39" cy="971.27" r="6.7"/>
<circle cx="1168" cy="971.14" r="6.7"/>
<circle cx="1168.6" cy="970.76" r="6.7"/>
<circle cx="1169.21" cy="970.53" r="6.7"/>
<circle cx="1169.81" cy="970.09" r="6.7"/>
<circle cx="1170.42" cy="969.92" r="6.7"/>
<circle cx="1171.04" cy="969.31" r="6.7"/>
<circle cx="1171.65" cy="969.26" r="6.7"/>
<circle cx="1172.27" cy="968.7" r="6.7"/>
<circle cx="1172.89" cy="968.42" r="6.7"/>
<circle cx="1173.51" cy="968.25" r="6.7"/>
<circle cx="1174.14" cy="968.09" r="6.7"/>
<circle cx="1174.76" cy="967.48" r="6.7"/>
<circle cx="1175.39" cy="966.87" r="6.7"/>
<circle cx="1176.03" cy="966.41" r="6.7"/>
<circle cx="1176.66" cy="966.25" r="6.7"/>
<circle cx="1177.3" cy="966.08" r="6.7"/>
<circle cx="1177.94" cy="965.64" r="6.7"/>
<circle cx="1178.59" cy="965.41" r="6.7"/>
<circle cx="1179.24" cy="965.07" r="6.7"/>
<circle cx="1179.89" cy="965.03" r="6.7"/>
<circle cx="1180.54" cy="964.57" r="6.7"/>
<circle cx="1181.2" cy="964.42" r="6.7"/>
<circle cx="1181.86" cy="964.24" r="6.7"/>
<circle cx="1182.52" cy="964.07" r="6.7"/>
<circle cx="1183.19" cy="964.07" r="6.7"/>
<circle cx="1183.86" cy="963.81" r="6.7"/>
<circle cx="1184.54" cy="963.73" r="6.7"/>
<circle cx="1185.21" cy="963.73" r="6.7"/>
<circle cx="1185.9" cy="963.4" r="6.7"/>
<circle cx="1186.58" cy="963.4" r="6.7"/>
<circle cx="1187.27" cy="963.2" r="6.7"/>
<circle cx="1187.96" cy="962.56" r="6.7"/>
<circle cx="1188.66" cy="962.23" r="6.7"/>
<circle cx="1189.36" cy="962.16" r="6.7"/>
<circle cx="1190.07" cy="961.06" r="6.7"/>
<circle cx="1190.78" cy="961.06" r="6.7"/>
<circle cx="1191.5" cy="960.67" r="6.7"/>
<circle cx="1192.22" cy="959.19" r="6.7"/>
<circle cx="1192.94" cy="958.38" r="6.7"/>
<circle cx="1193.67" cy="958.38" r="6.7"/>
<circle cx="1194.4" cy="957.71" r="6.7"/>
<circle cx="1195.14" cy="957.37" r="6.7"/>
<circle cx="1195.88" cy="957.04" r="6.7"/>
<circle cx="1196.63" cy="956.7" r="6.7"/>
<circle cx="1197.39" cy="956.37" r="6.7"/>
<circle cx="1198.15" cy="956.23" r="6.7"/>
<circle cx="1198.91" cy="956.2" r="6.7"/>
<circle cx="1199.69" cy="956.04" r="6.7"/>
<circle cx="1200.46" cy="955.7" r="6.7"/>
<circle cx="1201.25" cy="955.53" r="6.7"/>
<circle cx="1202.04" cy="955.2" r="6.7"/>
<circle cx="1202.83" cy="955.03" r="6.7"/>
<circle cx="1203.64" cy="954.74" r="6.7"/>
<circle cx="1204.44" cy="954.19" r="6.7"/>
<circle cx="1205.26" cy="953.69" r="6.7"/>
<circle cx="1206.08" cy="953.26" r="6.7"/>
<circle cx="1206.92" cy="951.68" r="6.7"/>
<circle cx="1207.75" cy="951.68" r="6.7"/>
<circle cx="1208.6" cy="950.85" r="6.7"/>
<circle cx="1209.45" cy="948.84" r="6.7"/>
<circle cx="1210.32" cy="948.34" r="6.7"/>
<circle cx="1211.19" cy="948.34" r="6.7"/>
<circle cx="1212.07" cy="947.83" r="6.7"/>
<circle cx="1212.95" cy="947.5" r="6.7"/>
<circle cx="1213.85" cy="946.66" r="6.7"/>
<circle cx="1214.76" cy="946.66" r="6.7"/>
<circle cx="1215.67" cy="946.33" r="6.7"/>
<circle cx="1216.6" cy="945.99" r="6.7"/>
<circle cx="1217.54" cy="945.16" r="6.7"/>
<circle cx="1218.49" cy="944.49" r="6.7"/>
<circle cx="1219.45" cy="944.15" r="6.7"/>
<circle cx="1220.42" cy="943.32" r="6.7"/>
<circle cx="1221.4" cy="942.81" r="6.7"/>
<circle cx="1222.39" cy="939.97" r="6.7"/>
<circle cx="1223.4" cy="939.97" r="6.7"/>
<circle cx="1224.42" cy="939.97" r="6.7"/>
<circle cx="1225.46" cy="938.96" r="6.7"/>
<circle cx="1226.5" cy="936.62" r="6.7"/>
<circle cx="1227.57" cy="936.62" r="6.7"/>
<circle cx="1228.65" cy="936.62" r="6.7"/>
<circle cx="1229.74" cy="936.62" r="6.7"/>
<circle cx="1230.85" cy="936.29" r="6.7"/>
<circle cx="1231.98" cy="935.78" r="6.7"/>
<circle cx="1233.13" cy="935.45" r="6.7"/>
<circle cx="1234.29" cy="935.45" r="6.7"/>
<circle cx="1235.48" cy="935.11" r="6.7"/>
<circle cx="1236.68" cy="935.11" r="6.7"/>
<circle cx="1237.91" cy="934.95" r="6.7"/>
<circle cx="1239.16" cy="934.28" r="6.7"/>
<circle cx="1240.43" cy="934.11" r="6.7"/>
<circle cx="1241.73" cy="933.44" r="6.7"/>
<circle cx="1243.05" cy="932.77" r="6.7"/>
<circle cx="1244.4" cy="932.77" r="6.7"/>
<circle cx="1245.78" cy="931.6" r="6.7"/>
<circle cx="1247.19" cy="931.26" r="6.7"/>
<circle cx="1248.63" cy="931.1" r="6.7"/>
<circle cx="1250.11" cy="930.43" r="6.7"/>
<circle cx="1251.62" cy="929.76" r="6.7"/>
<circle cx="1253.17" cy="929.59" r="6.7"/>
<circle cx="1254.76" cy="929.59" r="6.7"/>
<circle cx="1256.4" cy="928.59" r="6.7"/>
<circle cx="1258.08" cy="927.42" r="6.7"/>
<circle cx="1259.81" cy="926.75" r="6.7"/>
<circle cx="1261.59" cy="926.24" r="6.7"/>
<circle cx="1263.43" cy="922.56" r="6.7"/>
<circle cx="1265.34" cy="917.21" r="6.7"/>
<circle cx="1267.31" cy="912.52" r="6.7"/>
<circle cx="1269.36" cy="908.17" r="6.7"/>
<circle cx="1271.49" cy="907" r="6.7"/>
<circle cx="1273.7" cy="906.33" r="6.7"/>
<circle cx="1276.02" cy="904.32" r="6.7"/>
<circle cx="1278.44" cy="903.31" r="6.7"/>
<circle cx="1280.98" cy="898.46" r="6.7"/>
<circle cx="1283.66" cy="895.45" r="6.7"/>
<circle cx="1286.5" cy="887.41" r="6.7"/>
<circle cx="1289.51" cy="886.41" r="6.7"/>
<circle cx="1292.73" cy="872.18" r="6.7"/>
<circle cx="1296.18" cy="868.17" r="6.7"/>
<circle cx="1299.92" cy="854.94" r="6.7"/>
<circle cx="1304" cy="854.27" r="6.7"/>
<circle cx="1308.5" cy="853.44" r="6.7"/>
<circle cx="1313.53" cy="840.55" r="6.7"/>
<circle cx="1319.25" cy="831.01" r="6.7"/>
<circle cx="1325.92" cy="830.68" r="6.7"/>
<circle cx="1333.97" cy="826.32" r="6.7"/>
<circle cx="1344.23" cy="805.57" r="6.7"/>
<circle cx="1358.68" cy="798.37" r="6.7"/>
<circle cx="1384.34" cy="798.37" r="6.7"/>
</g>
<line x1="855.86" y1="1178.94" x2="1384.34" y2="811.49" stroke="#f00" stroke-width="3" stroke-linecap="square"/>
</g>
<rect x="830" y="772" width="581" height="570" fill="none" stroke="#000" stroke-width="1.6"/>
<line x1="851" y1="1342" x2="851" y2="1349" stroke="#000" stroke-width="1.6"/>
<text x="851" y="1371" font-size="20" text-anchor="middle">−3</text>
<line x1="941" y1="1342" x2="941" y2="1349" stroke="#000" stroke-width="1.6"/>
<text x="941" y="1371" font-size="20" text-anchor="middle">−2</text>
<line x1="1030" y1="1342" x2="1030" y2="1349" stroke="#000" stroke-width="1.6"/>
<text x="1030" y="1371" font-size="20" text-anchor="middle">−1</text>
<line x1="1120" y1="1342" x2="1120" y2="1349" stroke="#000" stroke-width="1.6"/>
<text x="1120" y="1371" font-size="20" text-anchor="middle">0</text>
<line x1="1210" y1="1342" x2="1210" y2="1349" stroke="#000" stroke-width="1.6"/>
<text x="1210" y="1371" font-size="20" text-anchor="middle">1</text>
<line x1="1300" y1="1342" x2="1300" y2="1349" stroke="#000" stroke-width="1.6"/>
<text x="1300" y="1371" font-size="20" text-anchor="middle">2</text>
<line x1="1389" y1="1342" x2="1389" y2="1349" stroke="#000" stroke-width="1.6"/>
<text x="1389" y="1371" font-size="20" text-anchor="middle">3</text>
<line x1="823" y1="1330" x2="830" y2="1330" stroke="#000" stroke-width="1.6"/>
<text x="815.5" y="1337.6" font-size="20" text-anchor="end">−200</text>
<line x1="823" y1="1246" x2="830" y2="1246" stroke="#000" stroke-width="1.6"/>
<text x="815.5" y="1253.6" font-size="20" text-anchor="end">−150</text>
<line x1="823" y1="1163" x2="830" y2="1163" stroke="#000" stroke-width="1.6"/>
<text x="815.5" y="1170.6" font-size="20" text-anchor="end">−100</text>
<line x1="823" y1="1079" x2="830" y2="1079" stroke="#000" stroke-width="1.6"/>
<text x="815.5" y="1086.6" font-size="20" text-anchor="end">−50</text>
<line x1="823" y1="995" x2="830" y2="995" stroke="#000" stroke-width="1.6"/>
<text x="815.5" y="1002.6" font-size="20" text-anchor="end">0</text>
<line x1="823" y1="912" x2="830" y2="912" stroke="#000" stroke-width="1.6"/>
<text x="815.5" y="919.6" font-size="20" text-anchor="end">50</text>
<line x1="823" y1="828" x2="830" y2="828" stroke="#000" stroke-width="1.6"/>
<text x="815.5" y="835.6" font-size="20" text-anchor="end">100</text>
<text x="1120.5" y="1398" font-size="20" text-anchor="middle">Theoretical quantiles</text>
<text x="748" y="1058.2" font-size="20" text-anchor="middle" transform="rotate(-90 748 1058.2)">Ordered Values</text>
</svg>
</body></html>
